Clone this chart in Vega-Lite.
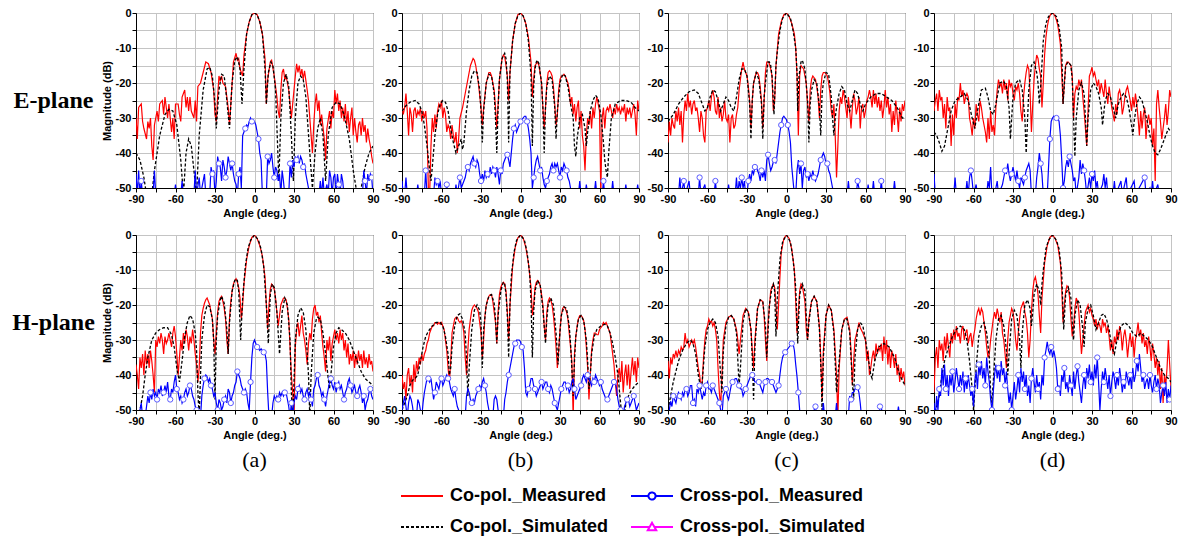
{
"$schema": "https://vega.github.io/schema/vega-lite/v6.json",
"padding": {"left": 0, "top": 6, "right": 0, "bottom": 0},
"background": "white",
"columns": 5,
"spacing": {"row": 47, "column": 29},
"bounds": "flush",
"align": "each",
"config": {
 "font": "Liberation Sans",
 "view": {"stroke": "#000000", "strokeWidth": 1},
 "axis": {"labelFont": "Liberation Sans", "labelFontWeight": "bold", "labelFontSize": 11, "labelColor": "#000", "titleFont": "Liberation Sans", "titleFontWeight": "bold", "titleFontSize": 11, "titleColor": "#000", "domainColor": "#000", "tickColor": "#000", "tickSize": 4, "gridColor": "#c4c4c4", "gridWidth": 1, "labelPadding": 1, "titlePadding": 3, "labelOverlap": false, "labelFlush": false, "labelBound": false},
 "legend": {"orient": "none", "legendX": 400, "legendY": 461, "columns": 2, "columnPadding": 18, "rowPadding": 0, "symbolSize": 1764, "symbolType": "stroke", "symbolStrokeWidth": 2, "labelFont": "Liberation Sans", "labelFontWeight": "bold", "labelFontSize": 18, "labelColor": "#000", "labelLimit": 0, "labelOffset": 6}
},
"datasets": {
"aE_cm": [{"x":-90,"y":-30},{"x":-89,"y":-36},{"x":-88,"y":-27},{"x":-86,"y":-26},{"x":-85,"y":-31},{"x":-84,"y":-33},{"x":-82,"y":-36},{"x":-81,"y":-31},{"x":-80,"y":-33},{"x":-79,"y":-30},{"x":-78,"y":-38},{"x":-77,"y":-42},{"x":-76,"y":-32},{"x":-74,"y":-28},{"x":-73,"y":-31},{"x":-72,"y":-26},{"x":-70,"y":-25},{"x":-69,"y":-29},{"x":-68,"y":-24},{"x":-66,"y":-30},{"x":-65,"y":-26},{"x":-63,"y":-34},{"x":-62,"y":-30},{"x":-61,"y":-36},{"x":-60,"y":-26},{"x":-58,"y":-26},{"x":-57,"y":-29},{"x":-56,"y":-31},{"x":-55,"y":-24},{"x":-53,"y":-22},{"x":-52,"y":-27},{"x":-51,"y":-24},{"x":-50,"y":-28},{"x":-49,"y":-24},{"x":-48,"y":-28},{"x":-46,"y":-30},{"x":-45,"y":-25},{"x":-44,"y":-31},{"x":-43,"y":-21},{"x":-41,"y":-20},{"x":-39,"y":-17},{"x":-37,"y":-14},{"x":-35,"y":-14.5},{"x":-33,"y":-17},{"x":-31,"y":-22},{"x":-30,"y":-29},{"x":-29,"y":-31},{"x":-28,"y":-24},{"x":-27,"y":-18},{"x":-26,"y":-19.5},{"x":-25,"y":-18},{"x":-24,"y":-20},{"x":-22,"y":-21},{"x":-21,"y":-24},{"x":-20,"y":-27},{"x":-19,"y":-32},{"x":-18,"y":-26},{"x":-17,"y":-20},{"x":-16,"y":-14},{"x":-14,"y":-11.5},{"x":-13,"y":-13.5},{"x":-12,"y":-13},{"x":-11,"y":-16},{"x":-10,"y":-17},{"x":-9,"y":-18},{"x":-8,"y":-12},{"x":-6,"y":-6},{"x":-4,"y":-2.5},{"x":-2,"y":-0.5},{"x":0,"y":0},{"x":2,"y":-0.5},{"x":4,"y":-2.5},{"x":6,"y":-6},{"x":8,"y":-13},{"x":9,"y":-26},{"x":10,"y":-19},{"x":12,"y":-14},{"x":13,"y":-13.5},{"x":15,"y":-18},{"x":17,"y":-24},{"x":18,"y":-28},{"x":19,"y":-30},{"x":20,"y":-22},{"x":21,"y":-17},{"x":22,"y":-16},{"x":23,"y":-19},{"x":24,"y":-18},{"x":26,"y":-22},{"x":27,"y":-26},{"x":28,"y":-30},{"x":29,"y":-26},{"x":30,"y":-22},{"x":31,"y":-18},{"x":32,"y":-14.5},{"x":33,"y":-17},{"x":34,"y":-15},{"x":35,"y":-18},{"x":36,"y":-16},{"x":37,"y":-19},{"x":38,"y":-16.5},{"x":40,"y":-22},{"x":41,"y":-25},{"x":42,"y":-30},{"x":43,"y":-35},{"x":44,"y":-40},{"x":45,"y":-32},{"x":46,"y":-26},{"x":47,"y":-23},{"x":48,"y":-28},{"x":49,"y":-25},{"x":50,"y":-32},{"x":51,"y":-29},{"x":53,"y":-36},{"x":54,"y":-42},{"x":55,"y":-33},{"x":57,"y":-28},{"x":58,"y":-33},{"x":59,"y":-28},{"x":60,"y":-30},{"x":61,"y":-22},{"x":62,"y":-26},{"x":63,"y":-23},{"x":64,"y":-28},{"x":65,"y":-25},{"x":66,"y":-30},{"x":67,"y":-27},{"x":68,"y":-31},{"x":69,"y":-26},{"x":70,"y":-32},{"x":71,"y":-28},{"x":72,"y":-34},{"x":73,"y":-30},{"x":74,"y":-27},{"x":75,"y":-35},{"x":76,"y":-30},{"x":77,"y":-34},{"x":78,"y":-37},{"x":79,"y":-32},{"x":80,"y":-31},{"x":81,"y":-35},{"x":82,"y":-30},{"x":83,"y":-34},{"x":84,"y":-32},{"x":85,"y":-37},{"x":86,"y":-33},{"x":87,"y":-36},{"x":88,"y":-38},{"x":89,"y":-41},{"x":90,"y":-43}],
"aE_cs": [{"x":-90,"y":-40},{"x":-87,"y":-42},{"x":-84,"y":-47},{"x":-82,"y":-52},{"x":-78,"y":-52},{"x":-76,"y":-45},{"x":-72,"y":-35},{"x":-68,"y":-29},{"x":-65,"y":-27.5},{"x":-62,"y":-28},{"x":-59,"y":-32},{"x":-56,"y":-42},{"x":-54,"y":-52},{"x":-52,"y":-40},{"x":-50,"y":-36},{"x":-48,"y":-38},{"x":-46,"y":-45},{"x":-44,"y":-52},{"x":-42,"y":-35},{"x":-39,"y":-22},{"x":-36,"y":-16},{"x":-34,"y":-15.5},{"x":-32,"y":-18},{"x":-30,"y":-26},{"x":-29,"y":-33},{"x":-27,"y":-22},{"x":-25,"y":-17.5},{"x":-23,"y":-18},{"x":-21,"y":-25},{"x":-19,"y":-33},{"x":-17,"y":-20},{"x":-15,"y":-13.5},{"x":-13,"y":-12.5},{"x":-11,"y":-16},{"x":-9.5,"y":-26},{"x":-8,"y":-16},{"x":-6,"y":-6},{"x":-4,"y":-2.5},{"x":-2,"y":-0.5},{"x":0,"y":0},{"x":2,"y":-0.5},{"x":4,"y":-2.5},{"x":6,"y":-6},{"x":8,"y":-16},{"x":9,"y":-26},{"x":10.5,"y":-17},{"x":12.5,"y":-14},{"x":14,"y":-15},{"x":16,"y":-22},{"x":18.5,"y":-48},{"x":20,"y":-30},{"x":22,"y":-20},{"x":24,"y":-17.5},{"x":26,"y":-21},{"x":28,"y":-35},{"x":29.5,"y":-48},{"x":31,"y":-30},{"x":33,"y":-20},{"x":35,"y":-18},{"x":37,"y":-19},{"x":39,"y":-24},{"x":42,"y":-40},{"x":44,"y":-50},{"x":46,"y":-40},{"x":48,"y":-33},{"x":50,"y":-30},{"x":52,"y":-35},{"x":54,"y":-48},{"x":56,"y":-35},{"x":59,"y":-27},{"x":62,"y":-25.5},{"x":65,"y":-26},{"x":68,"y":-29},{"x":72,"y":-36},{"x":75,"y":-45},{"x":78,"y":-52},{"x":81,"y":-50},{"x":84,"y":-44},{"x":87,"y":-40},{"x":90,"y":-38}],
"aE_xm": [{"x":-90,"y":-46},{"x":-89,"y":-52},{"x":-88,"y":-45},{"x":-87,"y":-52},{"x":-86,"y":-48},{"x":-85,"y":-52},{"x":-77,"y":-52},{"x":-76,"y":-45},{"x":-75,"y":-52},{"x":-61,"y":-52},{"x":-60,"y":-49},{"x":-59,"y":-52},{"x":-56,"y":-52},{"x":-55,"y":-48},{"x":-54,"y":-52},{"x":-46,"y":-52},{"x":-45,"y":-45},{"x":-44,"y":-52},{"x":-42,"y":-47},{"x":-41,"y":-52},{"x":-38,"y":-46},{"x":-37,"y":-52},{"x":-34,"y":-52},{"x":-33,"y":-44},{"x":-32,"y":-46},{"x":-31,"y":-45},{"x":-30,"y":-52},{"x":-29,"y":-48},{"x":-28,"y":-41},{"x":-27,"y":-43},{"x":-26,"y":-44},{"x":-25,"y":-48},{"x":-24,"y":-42},{"x":-23,"y":-44},{"x":-22,"y":-47},{"x":-21,"y":-45},{"x":-20,"y":-41},{"x":-19,"y":-43},{"x":-18,"y":-45},{"x":-17,"y":-43},{"x":-16,"y":-46},{"x":-15,"y":-48},{"x":-14,"y":-49},{"x":-13,"y":-52},{"x":-12,"y":-46},{"x":-11,"y":-44},{"x":-10,"y":-50},{"x":-9,"y":-35},{"x":-8,"y":-34},{"x":-7,"y":-33},{"x":-6,"y":-32},{"x":-5,"y":-32.5},{"x":-4,"y":-31},{"x":-3,"y":-30},{"x":-2,"y":-31},{"x":-1,"y":-31},{"x":0,"y":-31},{"x":1,"y":-32},{"x":2,"y":-34},{"x":3,"y":-36},{"x":4,"y":-40},{"x":5,"y":-42},{"x":6,"y":-52},{"x":9,"y":-52},{"x":10,"y":-41},{"x":11,"y":-43},{"x":12,"y":-42},{"x":13,"y":-40},{"x":14,"y":-44},{"x":15,"y":-47},{"x":16,"y":-44},{"x":17,"y":-45},{"x":18,"y":-48},{"x":19,"y":-46},{"x":20,"y":-52},{"x":21,"y":-45},{"x":22,"y":-48},{"x":23,"y":-52},{"x":26,"y":-52},{"x":27,"y":-43},{"x":28,"y":-47},{"x":29,"y":-42},{"x":30,"y":-44},{"x":31,"y":-41},{"x":32,"y":-42},{"x":33,"y":-41},{"x":34,"y":-43},{"x":35,"y":-41},{"x":36,"y":-42},{"x":37,"y":-44},{"x":38,"y":-43},{"x":39,"y":-46},{"x":40,"y":-48},{"x":41,"y":-50},{"x":42,"y":-52},{"x":49,"y":-52},{"x":50,"y":-48},{"x":51,"y":-52},{"x":52,"y":-47},{"x":53,"y":-52},{"x":55,"y":-49},{"x":56,"y":-52},{"x":57,"y":-45},{"x":58,"y":-47},{"x":59,"y":-52},{"x":60,"y":-47},{"x":61,"y":-46},{"x":62,"y":-52},{"x":63,"y":-46},{"x":64,"y":-49},{"x":65,"y":-52},{"x":66,"y":-46},{"x":67,"y":-48},{"x":68,"y":-52},{"x":72,"y":-52},{"x":73,"y":-50},{"x":74,"y":-52},{"x":82,"y":-52},{"x":83,"y":-45},{"x":84,"y":-48},{"x":85,"y":-52},{"x":86,"y":-46},{"x":87,"y":-48},{"x":88,"y":-46},{"x":89,"y":-47},{"x":90,"y":-52}],
"bE_cm": [{"x":-90,"y":-27},{"x":-89,"y":-29},{"x":-88,"y":-27},{"x":-87,"y":-23},{"x":-86,"y":-28},{"x":-85,"y":-35},{"x":-84,"y":-27},{"x":-83,"y":-29},{"x":-82,"y":-34},{"x":-81,"y":-28},{"x":-80,"y":-27},{"x":-79,"y":-30},{"x":-78,"y":-28},{"x":-77,"y":-29},{"x":-76,"y":-27},{"x":-75,"y":-31},{"x":-74,"y":-28},{"x":-73,"y":-30},{"x":-72,"y":-28},{"x":-71,"y":-33},{"x":-70,"y":-50},{"x":-69,"y":-52},{"x":-68,"y":-38},{"x":-67,"y":-30},{"x":-66,"y":-34},{"x":-65,"y":-29},{"x":-64,"y":-33},{"x":-63,"y":-28},{"x":-62,"y":-26},{"x":-61,"y":-27},{"x":-60,"y":-25},{"x":-59,"y":-30},{"x":-58,"y":-27},{"x":-57,"y":-29},{"x":-56,"y":-34},{"x":-55,"y":-32},{"x":-54,"y":-33},{"x":-53,"y":-36},{"x":-52,"y":-32},{"x":-51,"y":-35},{"x":-50,"y":-37},{"x":-49,"y":-34},{"x":-48,"y":-40},{"x":-47,"y":-36},{"x":-46,"y":-30},{"x":-44,"y":-27},{"x":-42,"y":-23},{"x":-40,"y":-19},{"x":-38,"y":-15},{"x":-36,"y":-13},{"x":-35,"y":-13.5},{"x":-34,"y":-15},{"x":-32,"y":-20},{"x":-30,"y":-27},{"x":-29,"y":-32},{"x":-28,"y":-27},{"x":-26,"y":-20},{"x":-24,"y":-17},{"x":-23,"y":-17},{"x":-22,"y":-18},{"x":-20,"y":-22},{"x":-19,"y":-27},{"x":-18,"y":-33},{"x":-17,"y":-26},{"x":-16,"y":-19},{"x":-14,"y":-13},{"x":-13,"y":-12},{"x":-12,"y":-12.5},{"x":-11,"y":-15},{"x":-10,"y":-18},{"x":-9,"y":-25},{"x":-8,"y":-17},{"x":-6,"y":-8},{"x":-4,"y":-3},{"x":-2,"y":-0.5},{"x":0,"y":0},{"x":2,"y":-0.8},{"x":4,"y":-3},{"x":6,"y":-7},{"x":8,"y":-14},{"x":9,"y":-24},{"x":10,"y":-19},{"x":11,"y":-15},{"x":12,"y":-14.5},{"x":13,"y":-14},{"x":14,"y":-15},{"x":16,"y":-20},{"x":17,"y":-27},{"x":18,"y":-33},{"x":19,"y":-27},{"x":20,"y":-20},{"x":21,"y":-17},{"x":22,"y":-16.5},{"x":23,"y":-17},{"x":24,"y":-18},{"x":25,"y":-21},{"x":26,"y":-26},{"x":27,"y":-32},{"x":28,"y":-29},{"x":29,"y":-22},{"x":30,"y":-19},{"x":31,"y":-18},{"x":32,"y":-18},{"x":33,"y":-17.5},{"x":34,"y":-18},{"x":35,"y":-19},{"x":36,"y":-20},{"x":37,"y":-22},{"x":38,"y":-26},{"x":39,"y":-24},{"x":40,"y":-29},{"x":41,"y":-26},{"x":42,"y":-31},{"x":43,"y":-27},{"x":44,"y":-25},{"x":45,"y":-33},{"x":46,"y":-28},{"x":47,"y":-35},{"x":48,"y":-38},{"x":49,"y":-45},{"x":50,"y":-35},{"x":51,"y":-30},{"x":52,"y":-32},{"x":53,"y":-28},{"x":54,"y":-33},{"x":55,"y":-27},{"x":56,"y":-30},{"x":57,"y":-26},{"x":58,"y":-24},{"x":59,"y":-26},{"x":60,"y":-28},{"x":61,"y":-52},{"x":62,"y":-30},{"x":63,"y":-27},{"x":64,"y":-33},{"x":65,"y":-28},{"x":66,"y":-27},{"x":67,"y":-28},{"x":68,"y":-26},{"x":69,"y":-28},{"x":70,"y":-30},{"x":71,"y":-27},{"x":72,"y":-29},{"x":73,"y":-26},{"x":74,"y":-28},{"x":75,"y":-27},{"x":76,"y":-29},{"x":77,"y":-27},{"x":78,"y":-28},{"x":79,"y":-26},{"x":80,"y":-31},{"x":81,"y":-27},{"x":82,"y":-29},{"x":83,"y":-27},{"x":84,"y":-30},{"x":85,"y":-28},{"x":86,"y":-26},{"x":87,"y":-29},{"x":88,"y":-35},{"x":89,"y":-25},{"x":90,"y":-28}],
"bE_cs": [{"x":-90,"y":-28},{"x":-87,"y":-26.5},{"x":-84,"y":-25.5},{"x":-80,"y":-25},{"x":-77,"y":-26},{"x":-75,"y":-28},{"x":-73,"y":-32},{"x":-71,"y":-38},{"x":-69,"y":-45},{"x":-68,"y":-48},{"x":-67,"y":-44},{"x":-65,"y":-35},{"x":-63,"y":-29},{"x":-61,"y":-26},{"x":-59,"y":-25},{"x":-57,"y":-25.5},{"x":-55,"y":-28},{"x":-53,"y":-33},{"x":-51,"y":-37},{"x":-49,"y":-40},{"x":-47,"y":-38},{"x":-45,"y":-36},{"x":-44,"y":-39},{"x":-43,"y":-37},{"x":-41,"y":-28},{"x":-39,"y":-22},{"x":-37,"y":-18},{"x":-35,"y":-16.5},{"x":-33,"y":-17},{"x":-31,"y":-22},{"x":-30,"y":-28},{"x":-29,"y":-37},{"x":-28,"y":-28},{"x":-26,"y":-20},{"x":-24,"y":-17.5},{"x":-22,"y":-18},{"x":-20,"y":-23},{"x":-19,"y":-30},{"x":-18,"y":-40},{"x":-17,"y":-27},{"x":-16,"y":-19},{"x":-14,"y":-13},{"x":-12,"y":-11.5},{"x":-11,"y":-13},{"x":-10,"y":-19},{"x":-9,"y":-37},{"x":-8,"y":-17},{"x":-6,"y":-8},{"x":-4,"y":-3},{"x":-2,"y":-0.8},{"x":0,"y":0},{"x":2,"y":-0.8},{"x":4,"y":-3},{"x":6,"y":-8},{"x":8,"y":-18},{"x":9,"y":-38},{"x":10,"y":-21},{"x":11,"y":-16},{"x":12,"y":-14},{"x":13,"y":-13.5},{"x":14,"y":-14.5},{"x":16,"y":-20},{"x":17,"y":-27},{"x":18,"y":-40},{"x":19,"y":-27},{"x":20,"y":-21},{"x":22,"y":-18},{"x":24,"y":-19},{"x":26,"y":-27},{"x":27,"y":-36},{"x":28,"y":-28},{"x":30,"y":-20},{"x":32,"y":-17.5},{"x":34,"y":-18},{"x":36,"y":-21},{"x":38,"y":-26},{"x":40,"y":-30},{"x":41,"y":-38},{"x":42,"y":-41},{"x":43,"y":-36},{"x":45,"y":-30},{"x":47,"y":-29},{"x":49,"y":-33},{"x":50,"y":-38},{"x":51,"y":-34},{"x":53,"y":-28},{"x":55,"y":-25},{"x":57,"y":-23.5},{"x":59,"y":-24.5},{"x":61,"y":-29},{"x":63,"y":-37},{"x":64,"y":-42},{"x":65,"y":-45},{"x":66,"y":-47},{"x":67,"y":-40},{"x":69,"y":-30},{"x":72,"y":-26},{"x":76,"y":-25},{"x":80,"y":-25},{"x":84,"y":-25.5},{"x":87,"y":-27},{"x":90,"y":-28}],
"bE_xm": [{"x":-90,"y":-48},{"x":-89,"y":-52},{"x":-88,"y":-52},{"x":-87,"y":-47},{"x":-86,"y":-52},{"x":-79,"y":-52},{"x":-78,"y":-49},{"x":-77,"y":-52},{"x":-73,"y":-52},{"x":-72,"y":-45},{"x":-71,"y":-52},{"x":-66,"y":-52},{"x":-65,"y":-47},{"x":-64,"y":-49},{"x":-63,"y":-48},{"x":-62,"y":-50},{"x":-61,"y":-48},{"x":-60,"y":-52},{"x":-57,"y":-52},{"x":-56,"y":-49},{"x":-55,"y":-52},{"x":-50,"y":-52},{"x":-49,"y":-49},{"x":-48,"y":-52},{"x":-46,"y":-47},{"x":-45,"y":-50},{"x":-44,"y":-49},{"x":-42,"y":-47},{"x":-41,"y":-45},{"x":-40,"y":-44},{"x":-39,"y":-45},{"x":-38,"y":-43},{"x":-37,"y":-42},{"x":-36,"y":-41},{"x":-35,"y":-43},{"x":-34,"y":-44},{"x":-33,"y":-42},{"x":-32,"y":-43},{"x":-31,"y":-46},{"x":-30,"y":-48},{"x":-29,"y":-46},{"x":-28,"y":-48},{"x":-27,"y":-45},{"x":-26,"y":-47},{"x":-25,"y":-46},{"x":-24,"y":-47},{"x":-23,"y":-44},{"x":-22,"y":-46},{"x":-21,"y":-44},{"x":-20,"y":-45},{"x":-19,"y":-47},{"x":-18,"y":-44},{"x":-17,"y":-46},{"x":-16,"y":-49},{"x":-15,"y":-45},{"x":-14,"y":-46},{"x":-13,"y":-43},{"x":-12,"y":-42},{"x":-11,"y":-41},{"x":-10,"y":-40.5},{"x":-9,"y":-42},{"x":-8,"y":-44},{"x":-7,"y":-40},{"x":-6,"y":-36},{"x":-5,"y":-33},{"x":-4,"y":-32},{"x":-3,"y":-34},{"x":-2,"y":-33},{"x":-1,"y":-32},{"x":0,"y":-31},{"x":1,"y":-30.5},{"x":2,"y":-30},{"x":3,"y":-29.5},{"x":4,"y":-29.5},{"x":5,"y":-31},{"x":6,"y":-33},{"x":7,"y":-36},{"x":8,"y":-40},{"x":9,"y":-50},{"x":10,"y":-47},{"x":11,"y":-44},{"x":12,"y":-42},{"x":13,"y":-41},{"x":14,"y":-43},{"x":15,"y":-45},{"x":16,"y":-44},{"x":17,"y":-47},{"x":18,"y":-49},{"x":19,"y":-50},{"x":20,"y":-48},{"x":21,"y":-47},{"x":22,"y":-46},{"x":23,"y":-44},{"x":24,"y":-43},{"x":25,"y":-45},{"x":26,"y":-43},{"x":27,"y":-44},{"x":28,"y":-43},{"x":29,"y":-45},{"x":30,"y":-47},{"x":31,"y":-44},{"x":32,"y":-45},{"x":33,"y":-43},{"x":34,"y":-44},{"x":35,"y":-45},{"x":36,"y":-47},{"x":37,"y":-48},{"x":38,"y":-50},{"x":39,"y":-52},{"x":44,"y":-52},{"x":45,"y":-48},{"x":46,"y":-52},{"x":49,"y":-52},{"x":50,"y":-49},{"x":51,"y":-52},{"x":56,"y":-52},{"x":57,"y":-48},{"x":58,"y":-52},{"x":62,"y":-52},{"x":63,"y":-48},{"x":64,"y":-52},{"x":69,"y":-52},{"x":70,"y":-48},{"x":71,"y":-52},{"x":79,"y":-52},{"x":80,"y":-49},{"x":81,"y":-52},{"x":88,"y":-52},{"x":89,"y":-49},{"x":90,"y":-52}],
"cE_cm": [{"x":-90,"y":-37},{"x":-89,"y":-31},{"x":-88,"y":-35},{"x":-87,"y":-30},{"x":-86,"y":-32},{"x":-85,"y":-33},{"x":-84,"y":-28},{"x":-83,"y":-31},{"x":-82,"y":-27},{"x":-81,"y":-32},{"x":-80,"y":-28},{"x":-79,"y":-37},{"x":-78,"y":-29},{"x":-77,"y":-25},{"x":-76,"y":-28},{"x":-75,"y":-23},{"x":-74,"y":-27},{"x":-73,"y":-25},{"x":-72,"y":-29},{"x":-71,"y":-26},{"x":-70,"y":-25},{"x":-69,"y":-28},{"x":-68,"y":-27},{"x":-67,"y":-30},{"x":-66,"y":-34},{"x":-65,"y":-28},{"x":-64,"y":-30},{"x":-63,"y":-35},{"x":-62,"y":-37},{"x":-61,"y":-28},{"x":-60,"y":-27},{"x":-59,"y":-25},{"x":-58,"y":-28},{"x":-57,"y":-24},{"x":-56,"y":-22},{"x":-55,"y":-24},{"x":-54,"y":-28},{"x":-53,"y":-29},{"x":-52,"y":-24},{"x":-51,"y":-30},{"x":-50,"y":-27},{"x":-49,"y":-31},{"x":-48,"y":-29},{"x":-47,"y":-25},{"x":-46,"y":-30},{"x":-45,"y":-31},{"x":-44,"y":-29},{"x":-43,"y":-37},{"x":-42,"y":-30},{"x":-41,"y":-29},{"x":-40,"y":-33},{"x":-39,"y":-32},{"x":-38,"y":-29},{"x":-37,"y":-27},{"x":-36,"y":-22},{"x":-35,"y":-19},{"x":-34,"y":-16},{"x":-33,"y":-14},{"x":-32,"y":-16},{"x":-31,"y":-17},{"x":-30,"y":-18},{"x":-29,"y":-21},{"x":-28,"y":-25},{"x":-27,"y":-33},{"x":-26,"y":-25},{"x":-25,"y":-20},{"x":-24,"y":-18.5},{"x":-23,"y":-17},{"x":-22,"y":-17},{"x":-21,"y":-18},{"x":-20,"y":-21},{"x":-19,"y":-25},{"x":-18,"y":-33},{"x":-17,"y":-25},{"x":-16,"y":-17},{"x":-15,"y":-14},{"x":-14,"y":-14},{"x":-13,"y":-14.5},{"x":-12,"y":-16},{"x":-11,"y":-18},{"x":-10,"y":-28},{"x":-9,"y":-25},{"x":-8,"y":-15},{"x":-6,"y":-6},{"x":-4,"y":-2.5},{"x":-2,"y":-0.5},{"x":0,"y":0},{"x":2,"y":-1},{"x":4,"y":-3},{"x":6,"y":-6},{"x":7,"y":-10},{"x":8,"y":-18},{"x":9,"y":-35},{"x":10,"y":-18},{"x":11,"y":-15},{"x":12,"y":-15.5},{"x":13,"y":-16},{"x":14,"y":-18},{"x":15,"y":-20},{"x":16,"y":-26},{"x":17,"y":-31},{"x":18,"y":-22},{"x":19,"y":-19},{"x":20,"y":-18},{"x":21,"y":-18.5},{"x":22,"y":-19},{"x":23,"y":-21},{"x":24,"y":-24},{"x":25,"y":-30},{"x":26,"y":-22},{"x":27,"y":-18},{"x":28,"y":-17},{"x":29,"y":-17},{"x":30,"y":-17.5},{"x":31,"y":-18},{"x":32,"y":-20},{"x":33,"y":-23},{"x":34,"y":-28},{"x":35,"y":-30},{"x":36,"y":-26},{"x":37,"y":-35},{"x":38,"y":-47},{"x":39,"y":-38},{"x":40,"y":-28},{"x":41,"y":-24},{"x":42,"y":-26},{"x":43,"y":-22},{"x":44,"y":-24},{"x":45,"y":-27},{"x":46,"y":-30},{"x":47,"y":-24},{"x":48,"y":-28},{"x":49,"y":-33},{"x":50,"y":-27},{"x":51,"y":-23},{"x":52,"y":-25},{"x":53,"y":-29},{"x":54,"y":-27},{"x":55,"y":-24},{"x":56,"y":-33},{"x":57,"y":-27},{"x":58,"y":-26},{"x":59,"y":-30},{"x":60,"y":-28},{"x":61,"y":-25},{"x":62,"y":-24},{"x":63,"y":-22},{"x":64,"y":-24},{"x":65,"y":-27},{"x":66,"y":-22},{"x":67,"y":-26},{"x":68,"y":-23},{"x":69,"y":-27},{"x":70,"y":-24},{"x":71,"y":-28},{"x":72,"y":-25},{"x":73,"y":-30},{"x":74,"y":-27},{"x":75,"y":-22},{"x":76,"y":-27},{"x":77,"y":-24},{"x":78,"y":-29},{"x":79,"y":-26},{"x":80,"y":-34},{"x":81,"y":-28},{"x":82,"y":-32},{"x":83,"y":-25},{"x":84,"y":-29},{"x":85,"y":-34},{"x":86,"y":-27},{"x":87,"y":-31},{"x":88,"y":-26},{"x":89,"y":-28},{"x":90,"y":-25}],
"cE_cs": [{"x":-90,"y":-31},{"x":-86,"y":-29},{"x":-82,"y":-26},{"x":-78,"y":-24},{"x":-74,"y":-22.5},{"x":-70,"y":-22},{"x":-67,"y":-23},{"x":-64,"y":-26},{"x":-62,"y":-28},{"x":-60,"y":-27},{"x":-58,"y":-24},{"x":-56,"y":-22},{"x":-54,"y":-22.5},{"x":-52,"y":-25},{"x":-50,"y":-28},{"x":-48,"y":-26},{"x":-46,"y":-24},{"x":-44,"y":-25},{"x":-42,"y":-27},{"x":-40,"y":-28},{"x":-38,"y":-24},{"x":-36,"y":-19},{"x":-34,"y":-16},{"x":-32,"y":-16},{"x":-30,"y":-18},{"x":-28,"y":-26},{"x":-27,"y":-36},{"x":-26,"y":-25},{"x":-25,"y":-20},{"x":-23,"y":-17},{"x":-21,"y":-19},{"x":-19,"y":-26},{"x":-18,"y":-36},{"x":-17,"y":-24},{"x":-16,"y":-20},{"x":-14,"y":-14},{"x":-13,"y":-14},{"x":-12,"y":-15},{"x":-11,"y":-18},{"x":-9.5,"y":-29},{"x":-8,"y":-15},{"x":-7,"y":-11},{"x":-5,"y":-5},{"x":-3,"y":-1.5},{"x":0,"y":0},{"x":3,"y":-1.5},{"x":5,"y":-5},{"x":7,"y":-10},{"x":8,"y":-17},{"x":8.5,"y":-28},{"x":9.5,"y":-18},{"x":11,"y":-14},{"x":12,"y":-13.5},{"x":14,"y":-16},{"x":16,"y":-25},{"x":17,"y":-37},{"x":18,"y":-26},{"x":19,"y":-22},{"x":21,"y":-19},{"x":23,"y":-20},{"x":25,"y":-27},{"x":26,"y":-35},{"x":27,"y":-23},{"x":28,"y":-20},{"x":30,"y":-17},{"x":32,"y":-17.5},{"x":34,"y":-24},{"x":35,"y":-30},{"x":36,"y":-35},{"x":37,"y":-30},{"x":38,"y":-27},{"x":40,"y":-23},{"x":42,"y":-21},{"x":44,"y":-22},{"x":46,"y":-26},{"x":48,"y":-28},{"x":50,"y":-25},{"x":52,"y":-22},{"x":54,"y":-23},{"x":56,"y":-26},{"x":58,"y":-28},{"x":60,"y":-26},{"x":64,"y":-24},{"x":68,"y":-23},{"x":72,"y":-23},{"x":76,"y":-24},{"x":80,"y":-25},{"x":84,"y":-27},{"x":88,"y":-30},{"x":90,"y":-30}],
"cE_xm": [{"x":-90,"y":-52},{"x":-82,"y":-52},{"x":-81,"y":-47},{"x":-80,"y":-52},{"x":-78,"y":-48},{"x":-77,"y":-52},{"x":-74,"y":-48},{"x":-73,"y":-52},{"x":-67,"y":-52},{"x":-66,"y":-47},{"x":-65,"y":-52},{"x":-62,"y":-49},{"x":-61,"y":-52},{"x":-55,"y":-52},{"x":-54,"y":-48},{"x":-53,"y":-52},{"x":-45,"y":-52},{"x":-44,"y":-49},{"x":-43,"y":-52},{"x":-39,"y":-52},{"x":-38,"y":-47},{"x":-37,"y":-52},{"x":-36,"y":-48},{"x":-35,"y":-50},{"x":-34,"y":-47},{"x":-33,"y":-50},{"x":-32,"y":-48},{"x":-31,"y":-52},{"x":-30,"y":-52},{"x":-29,"y":-48},{"x":-28,"y":-46},{"x":-27,"y":-48},{"x":-26,"y":-45},{"x":-25,"y":-46},{"x":-24,"y":-44},{"x":-23,"y":-44},{"x":-22,"y":-45},{"x":-21,"y":-46},{"x":-20,"y":-48},{"x":-19,"y":-45},{"x":-18,"y":-47},{"x":-17,"y":-45},{"x":-16,"y":-48},{"x":-15,"y":-42},{"x":-14,"y":-40.5},{"x":-13,"y":-43},{"x":-12,"y":-45},{"x":-11,"y":-44},{"x":-10,"y":-42.5},{"x":-9,"y":-42},{"x":-8,"y":-43},{"x":-7,"y":-40},{"x":-6,"y":-37},{"x":-5,"y":-34},{"x":-4,"y":-32},{"x":-3,"y":-30},{"x":-2,"y":-29.5},{"x":-1,"y":-30},{"x":0,"y":-30.5},{"x":1,"y":-32},{"x":2,"y":-34},{"x":3,"y":-37},{"x":4,"y":-44},{"x":5,"y":-48},{"x":6,"y":-52},{"x":7,"y":-52},{"x":8,"y":-45},{"x":9,"y":-42},{"x":10,"y":-46},{"x":11,"y":-43},{"x":12,"y":-50},{"x":13,"y":-45},{"x":14,"y":-44},{"x":15,"y":-47},{"x":16,"y":-46},{"x":17,"y":-48},{"x":18,"y":-46},{"x":19,"y":-47},{"x":20,"y":-45},{"x":21,"y":-47},{"x":22,"y":-48},{"x":23,"y":-47},{"x":24,"y":-46},{"x":25,"y":-44},{"x":26,"y":-42},{"x":27,"y":-41},{"x":28,"y":-40},{"x":29,"y":-41},{"x":30,"y":-43},{"x":31,"y":-43},{"x":32,"y":-45},{"x":33,"y":-46},{"x":34,"y":-48},{"x":35,"y":-50},{"x":36,"y":-52},{"x":46,"y":-52},{"x":47,"y":-48},{"x":48,"y":-52},{"x":53,"y":-52},{"x":54,"y":-48},{"x":55,"y":-50},{"x":56,"y":-52},{"x":61,"y":-52},{"x":62,"y":-49},{"x":63,"y":-52},{"x":65,"y":-52},{"x":66,"y":-48},{"x":67,"y":-52},{"x":71,"y":-52},{"x":72,"y":-48},{"x":73,"y":-52},{"x":81,"y":-52},{"x":82,"y":-48},{"x":83,"y":-52},{"x":90,"y":-52}],
"dE_cm": [{"x":-90,"y":-28},{"x":-89,"y":-25},{"x":-88,"y":-23},{"x":-87,"y":-28},{"x":-86,"y":-22},{"x":-85,"y":-25},{"x":-84,"y":-24},{"x":-83,"y":-30},{"x":-82,"y":-26},{"x":-81,"y":-33},{"x":-80,"y":-24},{"x":-79,"y":-28},{"x":-78,"y":-27},{"x":-77,"y":-38},{"x":-76,"y":-29},{"x":-75,"y":-35},{"x":-74,"y":-26},{"x":-73,"y":-30},{"x":-72,"y":-24},{"x":-71,"y":-25},{"x":-70,"y":-20},{"x":-69,"y":-24},{"x":-68,"y":-22},{"x":-67,"y":-26},{"x":-66,"y":-24},{"x":-65,"y":-23},{"x":-64,"y":-24},{"x":-63,"y":-30},{"x":-62,"y":-32},{"x":-61,"y":-35},{"x":-60,"y":-30},{"x":-59,"y":-33},{"x":-58,"y":-26},{"x":-57,"y":-29},{"x":-56,"y":-31},{"x":-55,"y":-25},{"x":-54,"y":-27},{"x":-53,"y":-30},{"x":-52,"y":-32},{"x":-51,"y":-34},{"x":-50,"y":-37},{"x":-49,"y":-30},{"x":-48,"y":-36},{"x":-47,"y":-28},{"x":-46,"y":-34},{"x":-45,"y":-32},{"x":-44,"y":-35},{"x":-43,"y":-27},{"x":-42,"y":-22},{"x":-41,"y":-19},{"x":-40,"y":-21},{"x":-39,"y":-20},{"x":-38,"y":-23},{"x":-37,"y":-19},{"x":-36,"y":-22},{"x":-35,"y":-20},{"x":-34,"y":-25},{"x":-33,"y":-19},{"x":-32,"y":-21},{"x":-31,"y":-20},{"x":-30,"y":-23},{"x":-29,"y":-25},{"x":-28,"y":-21},{"x":-27,"y":-22},{"x":-26,"y":-20},{"x":-25,"y":-23},{"x":-24,"y":-28},{"x":-23,"y":-31},{"x":-22,"y":-24},{"x":-21,"y":-20},{"x":-20,"y":-17},{"x":-19,"y":-15},{"x":-18,"y":-16},{"x":-17,"y":-23},{"x":-16,"y":-34},{"x":-15,"y":-26},{"x":-14,"y":-19},{"x":-13,"y":-15},{"x":-12,"y":-12},{"x":-11,"y":-13},{"x":-10,"y":-16},{"x":-9,"y":-18},{"x":-8,"y":-27},{"x":-7,"y":-20},{"x":-6,"y":-12},{"x":-5,"y":-7},{"x":-4,"y":-4},{"x":-3,"y":-2},{"x":-2,"y":-0.8},{"x":-1,"y":-0.2},{"x":0,"y":0},{"x":1,"y":-0.3},{"x":2,"y":-1},{"x":3,"y":-2},{"x":4,"y":-3.5},{"x":5,"y":-6},{"x":6,"y":-9},{"x":7,"y":-17},{"x":8,"y":-26},{"x":9,"y":-20},{"x":10,"y":-15},{"x":11,"y":-14},{"x":12,"y":-14},{"x":13,"y":-14.5},{"x":14,"y":-15},{"x":15,"y":-18},{"x":16,"y":-30},{"x":17,"y":-23},{"x":18,"y":-21},{"x":19,"y":-22},{"x":20,"y":-19},{"x":21,"y":-21},{"x":22,"y":-19},{"x":23,"y":-24},{"x":24,"y":-28},{"x":25,"y":-33},{"x":26,"y":-38},{"x":27,"y":-28},{"x":28,"y":-18},{"x":29,"y":-17},{"x":30,"y":-15.5},{"x":31,"y":-18},{"x":32,"y":-17},{"x":33,"y":-19},{"x":34,"y":-21},{"x":35,"y":-19},{"x":36,"y":-23},{"x":37,"y":-20},{"x":38,"y":-22},{"x":39,"y":-24},{"x":40,"y":-19},{"x":41,"y":-23},{"x":42,"y":-26},{"x":43,"y":-21},{"x":44,"y":-24},{"x":45,"y":-27},{"x":46,"y":-29},{"x":47,"y":-31},{"x":48,"y":-26},{"x":49,"y":-29},{"x":50,"y":-23},{"x":51,"y":-22},{"x":52,"y":-24},{"x":53,"y":-29},{"x":54,"y":-27},{"x":55,"y":-24},{"x":56,"y":-22},{"x":57,"y":-21},{"x":58,"y":-23},{"x":59,"y":-25},{"x":60,"y":-28},{"x":61,"y":-24},{"x":62,"y":-27},{"x":63,"y":-23},{"x":64,"y":-26},{"x":65,"y":-30},{"x":66,"y":-35},{"x":67,"y":-28},{"x":68,"y":-33},{"x":69,"y":-29},{"x":70,"y":-27},{"x":71,"y":-36},{"x":72,"y":-31},{"x":73,"y":-29},{"x":74,"y":-32},{"x":75,"y":-30},{"x":76,"y":-38},{"x":77,"y":-33},{"x":78,"y":-48},{"x":79,"y":-26},{"x":80,"y":-22},{"x":81,"y":-27},{"x":82,"y":-31},{"x":83,"y":-36},{"x":84,"y":-33},{"x":85,"y":-30},{"x":86,"y":-26},{"x":87,"y":-32},{"x":88,"y":-28},{"x":89,"y":-22},{"x":90,"y":-24}],
"dE_cs": [{"x":-90,"y":-34},{"x":-88,"y":-35},{"x":-86,"y":-37},{"x":-84,"y":-39.5},{"x":-82,"y":-38},{"x":-80,"y":-34},{"x":-77,"y":-28},{"x":-74,"y":-25},{"x":-70,"y":-24},{"x":-67,"y":-23},{"x":-64,"y":-25},{"x":-61,"y":-30},{"x":-59,"y":-33},{"x":-57,"y":-28},{"x":-54,"y":-22},{"x":-51,"y":-21.5},{"x":-49,"y":-24},{"x":-47,"y":-28},{"x":-45,"y":-29},{"x":-43,"y":-26},{"x":-40,"y":-20},{"x":-37,"y":-19.5},{"x":-35,"y":-21},{"x":-33,"y":-27},{"x":-32,"y":-36},{"x":-30,"y":-24},{"x":-28,"y":-20},{"x":-25,"y":-19},{"x":-23,"y":-22},{"x":-21,"y":-30},{"x":-20,"y":-40},{"x":-18,"y":-22},{"x":-16,"y":-15},{"x":-14,"y":-14},{"x":-12,"y":-17},{"x":-11,"y":-20},{"x":-10,"y":-26},{"x":-9,"y":-21},{"x":-7,"y":-8},{"x":-5,"y":-3},{"x":-3,"y":-1},{"x":0,"y":0},{"x":3,"y":-1},{"x":5,"y":-4},{"x":7,"y":-10},{"x":8,"y":-26},{"x":10,"y":-15},{"x":12,"y":-14},{"x":14,"y":-15},{"x":15,"y":-19},{"x":16,"y":-30},{"x":17,"y":-41},{"x":18,"y":-30},{"x":20,"y":-22},{"x":22,"y":-20},{"x":24,"y":-23},{"x":25,"y":-30},{"x":26,"y":-38},{"x":27,"y":-30},{"x":29,"y":-22},{"x":31,"y":-20},{"x":33,"y":-21},{"x":35,"y":-23},{"x":37,"y":-27},{"x":38,"y":-32},{"x":40,"y":-25},{"x":42,"y":-23},{"x":44,"y":-24},{"x":46,"y":-27},{"x":48,"y":-30},{"x":50,"y":-26},{"x":52,"y":-24},{"x":54,"y":-23},{"x":56,"y":-24},{"x":58,"y":-27},{"x":60,"y":-32},{"x":61,"y":-35},{"x":62,"y":-31},{"x":64,"y":-26},{"x":66,"y":-24},{"x":68,"y":-25},{"x":70,"y":-28},{"x":72,"y":-31},{"x":74,"y":-35},{"x":76,"y":-38},{"x":78,"y":-40},{"x":80,"y":-40.5},{"x":82,"y":-39},{"x":84,"y":-37},{"x":86,"y":-35},{"x":88,"y":-33},{"x":90,"y":-34}],
"dE_xm": [{"x":-90,"y":-46},{"x":-89,"y":-52},{"x":-75,"y":-52},{"x":-74,"y":-47},{"x":-73,"y":-52},{"x":-66,"y":-52},{"x":-65,"y":-48},{"x":-64,"y":-52},{"x":-63,"y":-47},{"x":-62,"y":-45},{"x":-61,"y":-48},{"x":-60,"y":-52},{"x":-58,"y":-49},{"x":-57,"y":-52},{"x":-50,"y":-52},{"x":-49,"y":-48},{"x":-48,"y":-50},{"x":-47,"y":-44},{"x":-46,"y":-52},{"x":-44,"y":-52},{"x":-42,"y":-48},{"x":-41,"y":-52},{"x":-38,"y":-49},{"x":-37,"y":-47},{"x":-36,"y":-45},{"x":-35,"y":-46},{"x":-34,"y":-43},{"x":-33,"y":-46},{"x":-32,"y":-48},{"x":-31,"y":-46},{"x":-30,"y":-44},{"x":-29,"y":-46},{"x":-28,"y":-48},{"x":-27,"y":-45},{"x":-26,"y":-48},{"x":-25,"y":-50},{"x":-24,"y":-47},{"x":-23,"y":-48},{"x":-22,"y":-49},{"x":-21,"y":-47},{"x":-20,"y":-45},{"x":-19,"y":-44},{"x":-18,"y":-43},{"x":-17,"y":-45},{"x":-16,"y":-52},{"x":-13,"y":-52},{"x":-12,"y":-47},{"x":-11,"y":-44},{"x":-10,"y":-40},{"x":-9,"y":-43},{"x":-8,"y":-46},{"x":-7,"y":-52},{"x":-4,"y":-52},{"x":-3,"y":-44},{"x":-2,"y":-36},{"x":-1,"y":-31},{"x":0,"y":-30},{"x":1,"y":-29.5},{"x":2,"y":-30},{"x":3,"y":-30},{"x":4,"y":-30},{"x":5,"y":-31},{"x":6,"y":-35},{"x":7,"y":-42},{"x":8,"y":-50},{"x":9,"y":-48},{"x":10,"y":-44},{"x":11,"y":-42},{"x":12,"y":-44},{"x":13,"y":-41},{"x":14,"y":-43},{"x":15,"y":-45},{"x":16,"y":-48},{"x":17,"y":-47},{"x":18,"y":-52},{"x":20,"y":-47},{"x":21,"y":-42},{"x":22,"y":-46},{"x":23,"y":-43},{"x":24,"y":-45},{"x":25,"y":-48},{"x":26,"y":-52},{"x":28,"y":-47},{"x":29,"y":-50},{"x":30,"y":-46},{"x":31,"y":-48},{"x":32,"y":-45},{"x":33,"y":-50},{"x":34,"y":-48},{"x":35,"y":-52},{"x":38,"y":-49},{"x":39,"y":-46},{"x":40,"y":-50},{"x":41,"y":-47},{"x":42,"y":-52},{"x":46,"y":-52},{"x":47,"y":-48},{"x":48,"y":-52},{"x":52,"y":-48},{"x":53,"y":-52},{"x":56,"y":-47},{"x":57,"y":-52},{"x":62,"y":-48},{"x":63,"y":-52},{"x":70,"y":-47},{"x":71,"y":-52},{"x":74,"y":-50},{"x":75,"y":-52},{"x":76,"y":-48},{"x":77,"y":-52},{"x":80,"y":-49},{"x":81,"y":-52},{"x":90,"y":-52}],
"aH_cm": [{"x":-90,"y":-37},{"x":-89,"y":-40},{"x":-88,"y":-44},{"x":-87,"y":-35},{"x":-86,"y":-38},{"x":-85,"y":-34},{"x":-84,"y":-40},{"x":-83,"y":-33},{"x":-82,"y":-37},{"x":-81,"y":-34},{"x":-80,"y":-38},{"x":-79,"y":-33},{"x":-78,"y":-36},{"x":-77,"y":-40},{"x":-76,"y":-45},{"x":-75,"y":-30},{"x":-74,"y":-32},{"x":-73,"y":-29},{"x":-72,"y":-31},{"x":-71,"y":-28},{"x":-70,"y":-30},{"x":-69,"y":-34},{"x":-68,"y":-29},{"x":-67,"y":-31},{"x":-66,"y":-30},{"x":-65,"y":-28},{"x":-64,"y":-30},{"x":-63,"y":-32},{"x":-62,"y":-28},{"x":-61,"y":-26},{"x":-60,"y":-29},{"x":-59,"y":-34},{"x":-58,"y":-40},{"x":-57,"y":-35},{"x":-56,"y":-30},{"x":-55,"y":-33},{"x":-54,"y":-28},{"x":-53,"y":-31},{"x":-52,"y":-27},{"x":-51,"y":-29},{"x":-50,"y":-33},{"x":-49,"y":-29},{"x":-48,"y":-31},{"x":-47,"y":-27},{"x":-46,"y":-30},{"x":-45,"y":-34},{"x":-44,"y":-37},{"x":-43,"y":-42},{"x":-42,"y":-38},{"x":-41,"y":-28},{"x":-40,"y":-23},{"x":-39,"y":-21},{"x":-38,"y":-19.5},{"x":-37,"y":-18.5},{"x":-36,"y":-18},{"x":-35,"y":-19},{"x":-34,"y":-20},{"x":-33,"y":-22},{"x":-32,"y":-24},{"x":-31,"y":-30},{"x":-30,"y":-34},{"x":-29,"y":-28},{"x":-28,"y":-22},{"x":-27,"y":-19},{"x":-26,"y":-18},{"x":-25,"y":-17.5},{"x":-24,"y":-19},{"x":-23,"y":-21},{"x":-22,"y":-24},{"x":-21,"y":-30},{"x":-20,"y":-34},{"x":-19,"y":-24},{"x":-18,"y":-19},{"x":-17,"y":-16},{"x":-16,"y":-14},{"x":-15,"y":-13},{"x":-14,"y":-12.5},{"x":-13,"y":-13.5},{"x":-12,"y":-15},{"x":-11,"y":-18},{"x":-10,"y":-24},{"x":-9,"y":-20},{"x":-8,"y":-14},{"x":-6,"y":-7},{"x":-4,"y":-3},{"x":-2,"y":-0.7},{"x":0,"y":0},{"x":2,"y":-1},{"x":4,"y":-3},{"x":6,"y":-6},{"x":8,"y":-12},{"x":9,"y":-20},{"x":10,"y":-27},{"x":11,"y":-20},{"x":12,"y":-15.5},{"x":13,"y":-14},{"x":14,"y":-14.5},{"x":15,"y":-15.5},{"x":16,"y":-18},{"x":17,"y":-22},{"x":18,"y":-26},{"x":19,"y":-23},{"x":20,"y":-20},{"x":21,"y":-19},{"x":22,"y":-18},{"x":23,"y":-18},{"x":24,"y":-18.5},{"x":25,"y":-21},{"x":26,"y":-24},{"x":27,"y":-32},{"x":28,"y":-40},{"x":29,"y":-45},{"x":30,"y":-52},{"x":31,"y":-32},{"x":32,"y":-27},{"x":33,"y":-25},{"x":34,"y":-29},{"x":35,"y":-26},{"x":36,"y":-23},{"x":37,"y":-28},{"x":38,"y":-30},{"x":39,"y":-33},{"x":40,"y":-37},{"x":41,"y":-31},{"x":42,"y":-28},{"x":43,"y":-30},{"x":44,"y":-24},{"x":45,"y":-21},{"x":46,"y":-20},{"x":47,"y":-23},{"x":48,"y":-22},{"x":49,"y":-25},{"x":50,"y":-23},{"x":51,"y":-28},{"x":52,"y":-32},{"x":53,"y":-35},{"x":54,"y":-39},{"x":55,"y":-30},{"x":56,"y":-33},{"x":57,"y":-29},{"x":58,"y":-36},{"x":59,"y":-31},{"x":60,"y":-29},{"x":61,"y":-27},{"x":62,"y":-30},{"x":63,"y":-28},{"x":64,"y":-31},{"x":65,"y":-27},{"x":66,"y":-30},{"x":67,"y":-28},{"x":68,"y":-33},{"x":69,"y":-30},{"x":70,"y":-35},{"x":71,"y":-31},{"x":72,"y":-37},{"x":73,"y":-34},{"x":74,"y":-36},{"x":75,"y":-33},{"x":76,"y":-38},{"x":77,"y":-34},{"x":78,"y":-37},{"x":79,"y":-33},{"x":80,"y":-36},{"x":81,"y":-34},{"x":82,"y":-38},{"x":83,"y":-33},{"x":84,"y":-37},{"x":85,"y":-35},{"x":86,"y":-38},{"x":87,"y":-34},{"x":88,"y":-37},{"x":89,"y":-36},{"x":90,"y":-39}],
"aH_cs": [{"x":-90,"y":-52},{"x":-87,"y":-50},{"x":-85,"y":-46},{"x":-83,"y":-40},{"x":-81,"y":-35},{"x":-78,"y":-30},{"x":-75,"y":-28},{"x":-72,"y":-27},{"x":-69,"y":-26.5},{"x":-66,"y":-26.5},{"x":-63,"y":-28.5},{"x":-61,"y":-32},{"x":-59,"y":-38},{"x":-57,"y":-42},{"x":-55,"y":-36},{"x":-53,"y":-29},{"x":-51,"y":-25},{"x":-49,"y":-23},{"x":-47,"y":-24},{"x":-45,"y":-28},{"x":-44,"y":-33},{"x":-43,"y":-45},{"x":-42,"y":-52},{"x":-41,"y":-40},{"x":-40,"y":-30},{"x":-38,"y":-23},{"x":-36,"y":-20},{"x":-34,"y":-20.5},{"x":-32,"y":-24},{"x":-31,"y":-30},{"x":-30,"y":-47},{"x":-29,"y":-30},{"x":-28,"y":-23},{"x":-26,"y":-18.5},{"x":-25,"y":-17.5},{"x":-23,"y":-19.5},{"x":-21,"y":-27},{"x":-20,"y":-34},{"x":-19,"y":-25},{"x":-17,"y":-16},{"x":-15,"y":-13},{"x":-14,"y":-12.5},{"x":-13,"y":-13},{"x":-12,"y":-16},{"x":-10.5,"y":-30},{"x":-9,"y":-18},{"x":-7,"y":-9},{"x":-5,"y":-4},{"x":-3,"y":-1.5},{"x":0,"y":0},{"x":3,"y":-1.5},{"x":5,"y":-4},{"x":7,"y":-9},{"x":9,"y":-20},{"x":10.5,"y":-31},{"x":12,"y":-17},{"x":13.5,"y":-14},{"x":15,"y":-15},{"x":17,"y":-22},{"x":19,"y":-34},{"x":21,"y":-22},{"x":23,"y":-18},{"x":25,"y":-20},{"x":27,"y":-30},{"x":28,"y":-45},{"x":29,"y":-52},{"x":30,"y":-42},{"x":31,"y":-30},{"x":33,"y":-23},{"x":35,"y":-20.8},{"x":37,"y":-22},{"x":39,"y":-27},{"x":41,"y":-40},{"x":42,"y":-52},{"x":43,"y":-40},{"x":45,"y":-28},{"x":47,"y":-24},{"x":48,"y":-23.5},{"x":50,"y":-24},{"x":52,"y":-28},{"x":54,"y":-34},{"x":56,"y":-41},{"x":57,"y":-44},{"x":58,"y":-40},{"x":60,"y":-32},{"x":62,"y":-28},{"x":64,"y":-26.5},{"x":66,"y":-27},{"x":69,"y":-28},{"x":72,"y":-30},{"x":75,"y":-33},{"x":78,"y":-36},{"x":81,"y":-39},{"x":84,"y":-41},{"x":87,"y":-42},{"x":90,"y":-43}],
"aH_xm": [{"x":-90,"y":-52},{"x":-89,"y":-50},{"x":-88,"y":-52},{"x":-86,"y":-48},{"x":-85,"y":-52},{"x":-83,"y":-52},{"x":-82,"y":-49},{"x":-81,"y":-46},{"x":-80,"y":-48},{"x":-79,"y":-45},{"x":-78,"y":-47},{"x":-77,"y":-44},{"x":-76,"y":-46},{"x":-75,"y":-45},{"x":-74,"y":-47},{"x":-73,"y":-44},{"x":-72,"y":-45},{"x":-71,"y":-43},{"x":-70,"y":-46},{"x":-69,"y":-45},{"x":-68,"y":-43},{"x":-67,"y":-45},{"x":-66,"y":-42},{"x":-65,"y":-46},{"x":-64,"y":-47},{"x":-63,"y":-44},{"x":-62,"y":-45},{"x":-61,"y":-42},{"x":-60,"y":-40},{"x":-59,"y":-44},{"x":-58,"y":-45},{"x":-57,"y":-47},{"x":-56,"y":-46},{"x":-55,"y":-48},{"x":-54,"y":-47},{"x":-53,"y":-45},{"x":-52,"y":-44},{"x":-51,"y":-46},{"x":-50,"y":-45},{"x":-49,"y":-43},{"x":-48,"y":-44},{"x":-47,"y":-46},{"x":-46,"y":-47},{"x":-45,"y":-49},{"x":-44,"y":-50},{"x":-43,"y":-52},{"x":-41,"y":-52},{"x":-40,"y":-46},{"x":-39,"y":-43},{"x":-38,"y":-41},{"x":-37,"y":-40},{"x":-36,"y":-40.5},{"x":-35,"y":-42},{"x":-34,"y":-41},{"x":-33,"y":-43},{"x":-32,"y":-44},{"x":-31,"y":-46},{"x":-30,"y":-45},{"x":-29,"y":-48},{"x":-28,"y":-50},{"x":-27,"y":-47},{"x":-26,"y":-48},{"x":-25,"y":-50},{"x":-24,"y":-49},{"x":-23,"y":-47},{"x":-22,"y":-46},{"x":-21,"y":-48},{"x":-20,"y":-44},{"x":-19,"y":-45},{"x":-18,"y":-48},{"x":-17,"y":-46},{"x":-16,"y":-45},{"x":-15,"y":-43},{"x":-14,"y":-42},{"x":-13,"y":-39},{"x":-12,"y":-40},{"x":-11,"y":-41},{"x":-10,"y":-43},{"x":-9,"y":-44},{"x":-8,"y":-45},{"x":-7,"y":-44},{"x":-6,"y":-45},{"x":-5,"y":-48},{"x":-4,"y":-50},{"x":-3,"y":-42},{"x":-2,"y":-35},{"x":-1,"y":-31},{"x":0,"y":-30},{"x":1,"y":-31},{"x":2,"y":-32},{"x":3,"y":-32.5},{"x":4,"y":-33},{"x":5,"y":-32.5},{"x":6,"y":-33},{"x":7,"y":-33.5},{"x":8,"y":-34},{"x":9,"y":-36},{"x":10,"y":-45},{"x":11,"y":-52},{"x":13,"y":-52},{"x":14,"y":-48},{"x":15,"y":-46},{"x":16,"y":-47},{"x":17,"y":-46},{"x":18,"y":-47},{"x":19,"y":-45},{"x":20,"y":-46},{"x":21,"y":-45},{"x":22,"y":-46},{"x":23,"y":-45},{"x":24,"y":-45},{"x":25,"y":-47},{"x":26,"y":-49},{"x":27,"y":-52},{"x":28,"y":-48},{"x":29,"y":-52},{"x":30,"y":-48},{"x":31,"y":-46},{"x":32,"y":-47},{"x":33,"y":-44},{"x":34,"y":-43},{"x":35,"y":-45},{"x":36,"y":-44},{"x":37,"y":-46},{"x":38,"y":-47},{"x":39,"y":-45},{"x":40,"y":-44},{"x":41,"y":-46},{"x":42,"y":-45},{"x":43,"y":-47},{"x":44,"y":-49},{"x":45,"y":-44},{"x":46,"y":-43},{"x":47,"y":-41},{"x":48,"y":-40},{"x":49,"y":-43},{"x":50,"y":-44},{"x":51,"y":-46},{"x":52,"y":-45},{"x":53,"y":-47},{"x":54,"y":-49},{"x":55,"y":-46},{"x":56,"y":-44},{"x":57,"y":-42},{"x":58,"y":-41},{"x":59,"y":-43},{"x":60,"y":-44},{"x":61,"y":-42},{"x":62,"y":-45},{"x":63,"y":-43},{"x":64,"y":-42},{"x":65,"y":-44},{"x":66,"y":-43},{"x":67,"y":-45},{"x":68,"y":-47},{"x":69,"y":-45},{"x":70,"y":-44},{"x":71,"y":-42},{"x":72,"y":-41},{"x":73,"y":-43},{"x":74,"y":-45},{"x":75,"y":-44},{"x":76,"y":-43},{"x":77,"y":-45},{"x":78,"y":-46},{"x":79,"y":-44},{"x":80,"y":-43},{"x":81,"y":-45},{"x":82,"y":-48},{"x":83,"y":-46},{"x":84,"y":-50},{"x":85,"y":-48},{"x":86,"y":-47},{"x":87,"y":-45},{"x":88,"y":-44},{"x":89,"y":-46},{"x":90,"y":-47}],
"bH_cm": [{"x":-90,"y":-40},{"x":-89,"y":-44},{"x":-88,"y":-42},{"x":-87,"y":-47},{"x":-86,"y":-40},{"x":-85,"y":-38},{"x":-84,"y":-43},{"x":-83,"y":-40},{"x":-82,"y":-45},{"x":-81,"y":-37},{"x":-80,"y":-42},{"x":-79,"y":-36},{"x":-78,"y":-39},{"x":-77,"y":-35},{"x":-76,"y":-37},{"x":-75,"y":-34},{"x":-74,"y":-36},{"x":-73,"y":-34},{"x":-72,"y":-33},{"x":-71,"y":-31},{"x":-70,"y":-30},{"x":-69,"y":-28},{"x":-68,"y":-27},{"x":-67,"y":-26},{"x":-66,"y":-26},{"x":-65,"y":-25},{"x":-64,"y":-25},{"x":-63,"y":-25.5},{"x":-62,"y":-25},{"x":-61,"y":-25.5},{"x":-60,"y":-25},{"x":-59,"y":-26},{"x":-58,"y":-27},{"x":-57,"y":-30},{"x":-56,"y":-33},{"x":-55,"y":-38},{"x":-54,"y":-42},{"x":-53,"y":-36},{"x":-52,"y":-28},{"x":-51,"y":-26},{"x":-50,"y":-24},{"x":-49,"y":-23.5},{"x":-48,"y":-23.5},{"x":-47,"y":-24.5},{"x":-46,"y":-25},{"x":-45,"y":-24.5},{"x":-44,"y":-25.5},{"x":-43,"y":-28},{"x":-42,"y":-35},{"x":-41,"y":-40},{"x":-40,"y":-33},{"x":-39,"y":-27},{"x":-38,"y":-24},{"x":-37,"y":-21.5},{"x":-36,"y":-20.5},{"x":-35,"y":-20},{"x":-34,"y":-20.5},{"x":-33,"y":-21},{"x":-32,"y":-22},{"x":-31,"y":-25},{"x":-30,"y":-28},{"x":-29,"y":-35},{"x":-28,"y":-30},{"x":-27,"y":-23},{"x":-26,"y":-20},{"x":-25,"y":-18.5},{"x":-24,"y":-17.5},{"x":-23,"y":-17},{"x":-22,"y":-17},{"x":-21,"y":-19},{"x":-20,"y":-22},{"x":-19,"y":-25},{"x":-18,"y":-31},{"x":-17,"y":-22},{"x":-16,"y":-17},{"x":-15,"y":-15},{"x":-14,"y":-14},{"x":-13,"y":-13.5},{"x":-12,"y":-14},{"x":-11,"y":-16},{"x":-10,"y":-22},{"x":-9,"y":-30},{"x":-8,"y":-20},{"x":-6,"y":-9},{"x":-4,"y":-3.5},{"x":-2,"y":-0.8},{"x":0,"y":0},{"x":2,"y":-0.8},{"x":4,"y":-3.5},{"x":6,"y":-8},{"x":8,"y":-15},{"x":9,"y":-23},{"x":10,"y":-20},{"x":11,"y":-15},{"x":12,"y":-13.5},{"x":13,"y":-13},{"x":14,"y":-13.5},{"x":15,"y":-14.5},{"x":16,"y":-17},{"x":17,"y":-20},{"x":18,"y":-26},{"x":19,"y":-30},{"x":20,"y":-22},{"x":21,"y":-19},{"x":22,"y":-18},{"x":23,"y":-18.5},{"x":24,"y":-20},{"x":25,"y":-23},{"x":26,"y":-27},{"x":27,"y":-32},{"x":28,"y":-38},{"x":29,"y":-33},{"x":30,"y":-27},{"x":31,"y":-23},{"x":32,"y":-21},{"x":33,"y":-20.5},{"x":34,"y":-21},{"x":35,"y":-22},{"x":36,"y":-24},{"x":37,"y":-28},{"x":38,"y":-32},{"x":39,"y":-36},{"x":40,"y":-52},{"x":41,"y":-34},{"x":42,"y":-29},{"x":43,"y":-26},{"x":44,"y":-24},{"x":45,"y":-23},{"x":46,"y":-23},{"x":47,"y":-23.5},{"x":48,"y":-24.5},{"x":49,"y":-27},{"x":50,"y":-32},{"x":51,"y":-38},{"x":52,"y":-47},{"x":53,"y":-40},{"x":54,"y":-33},{"x":55,"y":-30},{"x":56,"y":-28},{"x":57,"y":-28},{"x":58,"y":-28.5},{"x":59,"y":-28.5},{"x":60,"y":-27},{"x":61,"y":-26.5},{"x":62,"y":-26},{"x":63,"y":-25},{"x":64,"y":-25.5},{"x":65,"y":-25},{"x":66,"y":-26},{"x":67,"y":-27},{"x":68,"y":-28},{"x":69,"y":-31},{"x":70,"y":-34},{"x":71,"y":-37},{"x":72,"y":-42},{"x":73,"y":-46},{"x":74,"y":-40},{"x":75,"y":-38},{"x":76,"y":-42},{"x":77,"y":-36},{"x":78,"y":-45},{"x":79,"y":-40},{"x":80,"y":-37},{"x":81,"y":-43},{"x":82,"y":-37},{"x":83,"y":-44},{"x":84,"y":-39},{"x":85,"y":-35},{"x":86,"y":-40},{"x":87,"y":-36},{"x":88,"y":-42},{"x":89,"y":-35},{"x":90,"y":-38}],
"bH_cs": [{"x":-90,"y":-50},{"x":-88,"y":-48},{"x":-86,"y":-46},{"x":-84,"y":-43},{"x":-82,"y":-41.5},{"x":-80,"y":-41},{"x":-78,"y":-40},{"x":-76,"y":-36},{"x":-74,"y":-32},{"x":-72,"y":-29},{"x":-70,"y":-27.5},{"x":-67,"y":-26},{"x":-64,"y":-25},{"x":-61,"y":-25},{"x":-59,"y":-26},{"x":-57,"y":-29},{"x":-55,"y":-34},{"x":-54,"y":-40},{"x":-53,"y":-38},{"x":-52,"y":-32},{"x":-50,"y":-26},{"x":-48,"y":-23},{"x":-46,"y":-22.5},{"x":-44,"y":-24},{"x":-42,"y":-28},{"x":-41,"y":-35},{"x":-40,"y":-46},{"x":-39,"y":-38},{"x":-37,"y":-27},{"x":-35,"y":-21.5},{"x":-33,"y":-20},{"x":-31,"y":-21.5},{"x":-30,"y":-25},{"x":-29,"y":-38},{"x":-28,"y":-27},{"x":-26,"y":-20},{"x":-24,"y":-17.5},{"x":-22,"y":-17},{"x":-20,"y":-19.5},{"x":-19,"y":-24},{"x":-18,"y":-31},{"x":-17,"y":-23},{"x":-15,"y":-16},{"x":-13,"y":-13.5},{"x":-12,"y":-14},{"x":-11,"y":-17},{"x":-10,"y":-23},{"x":-9,"y":-35},{"x":-8,"y":-20},{"x":-7,"y":-12},{"x":-5,"y":-5},{"x":-3,"y":-1.5},{"x":0,"y":0},{"x":3,"y":-1.5},{"x":5,"y":-5},{"x":7,"y":-11},{"x":8,"y":-19},{"x":9,"y":-35},{"x":10,"y":-22},{"x":11,"y":-16},{"x":13,"y":-13},{"x":15,"y":-14.5},{"x":17,"y":-21},{"x":18,"y":-26},{"x":19,"y":-31},{"x":20,"y":-24},{"x":21,"y":-20},{"x":23,"y":-18},{"x":25,"y":-20},{"x":27,"y":-28},{"x":28.5,"y":-37},{"x":29.5,"y":-30},{"x":31,"y":-23},{"x":33,"y":-20.5},{"x":35,"y":-21},{"x":37,"y":-26},{"x":38,"y":-31},{"x":39,"y":-38},{"x":40,"y":-46},{"x":41,"y":-36},{"x":42,"y":-29},{"x":44,"y":-24},{"x":46,"y":-23},{"x":48,"y":-24.5},{"x":50,"y":-30},{"x":51,"y":-36},{"x":52,"y":-44},{"x":53,"y":-40},{"x":54,"y":-34},{"x":56,"y":-29},{"x":58,"y":-27},{"x":61,"y":-26},{"x":64,"y":-25.5},{"x":66,"y":-26},{"x":68,"y":-28},{"x":70,"y":-31},{"x":72,"y":-35},{"x":74,"y":-40},{"x":75,"y":-44},{"x":76,"y":-48},{"x":77,"y":-52},{"x":79,"y":-52},{"x":80,"y":-48},{"x":82,"y":-46},{"x":84,"y":-44.5},{"x":87,"y":-43},{"x":90,"y":-42}],
"bH_xm": [{"x":-90,"y":-50},{"x":-89,"y":-48},{"x":-88,"y":-46},{"x":-87,"y":-49},{"x":-86,"y":-52},{"x":-85,"y":-48},{"x":-84,"y":-46},{"x":-83,"y":-47},{"x":-82,"y":-49},{"x":-81,"y":-52},{"x":-79,"y":-52},{"x":-78,"y":-47},{"x":-77,"y":-48},{"x":-76,"y":-50},{"x":-75,"y":-52},{"x":-74,"y":-48},{"x":-73,"y":-45},{"x":-72,"y":-43},{"x":-71,"y":-41},{"x":-70,"y":-41},{"x":-69,"y":-42},{"x":-68,"y":-41},{"x":-67,"y":-44},{"x":-66,"y":-47},{"x":-65,"y":-45},{"x":-64,"y":-42},{"x":-63,"y":-43},{"x":-62,"y":-44},{"x":-61,"y":-42},{"x":-60,"y":-41},{"x":-59,"y":-43},{"x":-58,"y":-42},{"x":-57,"y":-41},{"x":-56,"y":-40},{"x":-55,"y":-41},{"x":-54,"y":-42},{"x":-53,"y":-44},{"x":-52,"y":-45},{"x":-51,"y":-46},{"x":-50,"y":-44},{"x":-49,"y":-47},{"x":-48,"y":-49},{"x":-47,"y":-50},{"x":-46,"y":-52},{"x":-42,"y":-52},{"x":-41,"y":-46},{"x":-40,"y":-44},{"x":-39,"y":-45},{"x":-38,"y":-47},{"x":-37,"y":-48},{"x":-36,"y":-47},{"x":-35,"y":-48},{"x":-34,"y":-46},{"x":-33,"y":-45},{"x":-32,"y":-44},{"x":-31,"y":-43},{"x":-30,"y":-44},{"x":-29,"y":-42},{"x":-28,"y":-41},{"x":-27,"y":-43},{"x":-26,"y":-45},{"x":-25,"y":-48},{"x":-24,"y":-50},{"x":-23,"y":-52},{"x":-21,"y":-52},{"x":-20,"y":-47},{"x":-19,"y":-46},{"x":-18,"y":-47},{"x":-17,"y":-50},{"x":-16,"y":-52},{"x":-13,"y":-52},{"x":-12,"y":-47},{"x":-11,"y":-45},{"x":-10,"y":-42},{"x":-9,"y":-40},{"x":-8,"y":-38},{"x":-7,"y":-36},{"x":-6,"y":-34},{"x":-5,"y":-32},{"x":-4,"y":-31},{"x":-3,"y":-30},{"x":-2,"y":-30},{"x":-1,"y":-30},{"x":0,"y":-30.5},{"x":1,"y":-32},{"x":2,"y":-33},{"x":3,"y":-38},{"x":4,"y":-45},{"x":5,"y":-46},{"x":6,"y":-44},{"x":7,"y":-43},{"x":8,"y":-41},{"x":9,"y":-41},{"x":10,"y":-43},{"x":11,"y":-44},{"x":12,"y":-46},{"x":13,"y":-45},{"x":14,"y":-44},{"x":15,"y":-43},{"x":16,"y":-42},{"x":17,"y":-44},{"x":18,"y":-43},{"x":19,"y":-42},{"x":20,"y":-42},{"x":21,"y":-44},{"x":22,"y":-45},{"x":23,"y":-43},{"x":24,"y":-44},{"x":25,"y":-46},{"x":26,"y":-48},{"x":27,"y":-49},{"x":28,"y":-50},{"x":29,"y":-48},{"x":30,"y":-46},{"x":31,"y":-44},{"x":32,"y":-43},{"x":33,"y":-42},{"x":34,"y":-42},{"x":35,"y":-44},{"x":36,"y":-43},{"x":37,"y":-45},{"x":38,"y":-44},{"x":39,"y":-42},{"x":40,"y":-41},{"x":41,"y":-44},{"x":42,"y":-47},{"x":43,"y":-46},{"x":44,"y":-45},{"x":45,"y":-44},{"x":46,"y":-43},{"x":47,"y":-41},{"x":48,"y":-40},{"x":49,"y":-41},{"x":50,"y":-42},{"x":51,"y":-40},{"x":52,"y":-41},{"x":53,"y":-42},{"x":54,"y":-43},{"x":55,"y":-41},{"x":56,"y":-42},{"x":57,"y":-40},{"x":58,"y":-41},{"x":59,"y":-42},{"x":60,"y":-43},{"x":61,"y":-42},{"x":62,"y":-44},{"x":63,"y":-45},{"x":64,"y":-46},{"x":65,"y":-47},{"x":66,"y":-47},{"x":67,"y":-46},{"x":68,"y":-45},{"x":69,"y":-44},{"x":70,"y":-43},{"x":71,"y":-42},{"x":72,"y":-42},{"x":73,"y":-44},{"x":74,"y":-47},{"x":75,"y":-49},{"x":76,"y":-50},{"x":77,"y":-52},{"x":78,"y":-52},{"x":79,"y":-49},{"x":80,"y":-48},{"x":81,"y":-47},{"x":82,"y":-47},{"x":83,"y":-49},{"x":84,"y":-48},{"x":85,"y":-47},{"x":86,"y":-46},{"x":87,"y":-48},{"x":88,"y":-50},{"x":89,"y":-49},{"x":90,"y":-48}],
"cH_cm": [{"x":-90,"y":-36},{"x":-89,"y":-41},{"x":-88,"y":-35},{"x":-87,"y":-37},{"x":-86,"y":-34},{"x":-85,"y":-35},{"x":-84,"y":-33},{"x":-83,"y":-35},{"x":-82,"y":-33},{"x":-81,"y":-34},{"x":-80,"y":-32},{"x":-79,"y":-33},{"x":-78,"y":-32},{"x":-77,"y":-28},{"x":-76,"y":-31},{"x":-75,"y":-30},{"x":-74,"y":-32},{"x":-73,"y":-31},{"x":-72,"y":-30},{"x":-71,"y":-31},{"x":-70,"y":-30},{"x":-69,"y":-32},{"x":-68,"y":-35},{"x":-67,"y":-38},{"x":-66,"y":-40},{"x":-65,"y":-43},{"x":-64,"y":-42},{"x":-63,"y":-35},{"x":-62,"y":-30},{"x":-61,"y":-27},{"x":-60,"y":-26},{"x":-59,"y":-24},{"x":-58,"y":-25},{"x":-57,"y":-24.5},{"x":-56,"y":-26},{"x":-55,"y":-25},{"x":-54,"y":-27},{"x":-53,"y":-30},{"x":-52,"y":-38},{"x":-51,"y":-45},{"x":-50,"y":-49},{"x":-49,"y":-40},{"x":-48,"y":-30},{"x":-46,"y":-25},{"x":-44,"y":-23.5},{"x":-42,"y":-23},{"x":-40,"y":-24},{"x":-38,"y":-27},{"x":-37,"y":-30},{"x":-36,"y":-34},{"x":-35,"y":-30},{"x":-33,"y":-23},{"x":-31,"y":-21},{"x":-29,"y":-22},{"x":-27,"y":-27},{"x":-26,"y":-33},{"x":-25,"y":-38},{"x":-24,"y":-30},{"x":-22,"y":-21},{"x":-20,"y":-18.5},{"x":-18,"y":-19},{"x":-17,"y":-23},{"x":-16,"y":-30},{"x":-15,"y":-36},{"x":-14,"y":-25},{"x":-12,"y":-16},{"x":-10,"y":-14},{"x":-9,"y":-15},{"x":-8,"y":-20},{"x":-7,"y":-27},{"x":-6,"y":-20},{"x":-5,"y":-12},{"x":-4,"y":-5},{"x":-2,"y":-1},{"x":0,"y":0},{"x":2,"y":-1},{"x":4,"y":-4},{"x":6,"y":-10},{"x":7,"y":-19},{"x":8,"y":-28},{"x":9,"y":-22},{"x":10,"y":-16},{"x":11,"y":-14},{"x":12,"y":-14.5},{"x":14,"y":-19},{"x":15,"y":-27},{"x":16,"y":-30},{"x":17,"y":-24},{"x":19,"y":-19},{"x":21,"y":-17.5},{"x":23,"y":-19},{"x":25,"y":-26},{"x":26,"y":-35},{"x":27,"y":-47},{"x":28,"y":-33},{"x":30,"y":-23},{"x":32,"y":-20},{"x":34,"y":-21.5},{"x":36,"y":-27},{"x":38,"y":-40},{"x":39,"y":-52},{"x":40,"y":-38},{"x":42,"y":-27},{"x":44,"y":-24},{"x":46,"y":-23.5},{"x":48,"y":-27},{"x":49,"y":-33},{"x":50,"y":-43},{"x":51,"y":-36},{"x":52,"y":-30},{"x":54,"y":-27},{"x":55,"y":-25},{"x":56,"y":-26.5},{"x":58,"y":-28},{"x":60,"y":-30},{"x":61,"y":-36},{"x":62,"y":-33},{"x":63,"y":-40},{"x":64,"y":-38},{"x":65,"y":-35},{"x":66,"y":-33},{"x":67,"y":-36},{"x":68,"y":-31},{"x":69,"y":-34},{"x":70,"y":-32},{"x":71,"y":-33},{"x":72,"y":-31},{"x":73,"y":-36},{"x":74,"y":-29},{"x":75,"y":-34},{"x":76,"y":-30},{"x":77,"y":-37},{"x":78,"y":-32},{"x":79,"y":-38},{"x":80,"y":-33},{"x":81,"y":-35},{"x":82,"y":-38},{"x":83,"y":-34},{"x":84,"y":-40},{"x":85,"y":-37},{"x":86,"y":-42},{"x":87,"y":-38},{"x":88,"y":-41},{"x":89,"y":-39},{"x":90,"y":-43}],
"cH_cs": [{"x":-90,"y":-50},{"x":-88,"y":-46},{"x":-86,"y":-42},{"x":-84,"y":-39},{"x":-82,"y":-36},{"x":-79,"y":-33},{"x":-76,"y":-31},{"x":-73,"y":-30},{"x":-71,"y":-31},{"x":-69,"y":-34},{"x":-67,"y":-40},{"x":-65,"y":-44},{"x":-64,"y":-42},{"x":-62,"y":-32},{"x":-60,"y":-27},{"x":-58,"y":-25},{"x":-56,"y":-24},{"x":-54,"y":-25},{"x":-52,"y":-29},{"x":-50,"y":-40},{"x":-49,"y":-45},{"x":-48,"y":-33},{"x":-46,"y":-26},{"x":-44,"y":-23.5},{"x":-42,"y":-23},{"x":-40,"y":-24},{"x":-38,"y":-28},{"x":-36,"y":-43},{"x":-35,"y":-38},{"x":-33,"y":-25},{"x":-31,"y":-21},{"x":-29,"y":-22},{"x":-27,"y":-27},{"x":-26,"y":-35},{"x":-25,"y":-47},{"x":-24,"y":-32},{"x":-22,"y":-21},{"x":-20,"y":-18.5},{"x":-18,"y":-19},{"x":-16,"y":-26},{"x":-15,"y":-35},{"x":-13,"y":-20},{"x":-11,"y":-15},{"x":-10,"y":-14},{"x":-9,"y":-16},{"x":-8,"y":-29},{"x":-7,"y":-18},{"x":-5,"y":-7},{"x":-3,"y":-2},{"x":0,"y":0},{"x":3,"y":-2},{"x":5,"y":-7},{"x":7,"y":-15},{"x":8.5,"y":-31},{"x":10,"y":-17},{"x":12,"y":-14},{"x":14,"y":-16},{"x":16,"y":-30},{"x":17,"y":-25},{"x":19,"y":-19},{"x":21,"y":-17.5},{"x":23,"y":-19},{"x":25,"y":-27},{"x":26.5,"y":-42},{"x":27,"y":-50},{"x":28,"y":-35},{"x":30,"y":-23},{"x":32,"y":-20},{"x":34,"y":-21.5},{"x":36,"y":-28},{"x":38,"y":-45},{"x":40,"y":-36},{"x":42,"y":-27},{"x":44,"y":-24},{"x":46,"y":-24},{"x":48,"y":-28},{"x":50,"y":-42},{"x":51,"y":-47},{"x":52,"y":-35},{"x":54,"y":-27},{"x":56,"y":-25},{"x":58,"y":-26},{"x":60,"y":-30},{"x":62,"y":-35},{"x":64,"y":-40},{"x":65,"y":-41},{"x":67,"y":-36},{"x":70,"y":-32},{"x":74,"y":-31},{"x":78,"y":-32},{"x":82,"y":-35},{"x":86,"y":-40},{"x":90,"y":-43}],
"cH_xm": [{"x":-90,"y":-52},{"x":-89,"y":-50},{"x":-88,"y":-47.5},{"x":-87,"y":-49},{"x":-86,"y":-46},{"x":-85,"y":-47},{"x":-84,"y":-48},{"x":-83,"y":-46},{"x":-82,"y":-45},{"x":-81,"y":-46},{"x":-80,"y":-47},{"x":-79,"y":-45},{"x":-78,"y":-46},{"x":-77,"y":-44},{"x":-76,"y":-44},{"x":-75,"y":-46},{"x":-74,"y":-45},{"x":-73,"y":-43},{"x":-72,"y":-43},{"x":-71,"y":-48},{"x":-70,"y":-47},{"x":-69,"y":-49},{"x":-68,"y":-44},{"x":-67,"y":-45},{"x":-66,"y":-43},{"x":-65,"y":-45},{"x":-64,"y":-47},{"x":-63,"y":-45},{"x":-62,"y":-46},{"x":-61,"y":-43},{"x":-60,"y":-42},{"x":-59,"y":-44},{"x":-58,"y":-44},{"x":-57,"y":-45},{"x":-56,"y":-43},{"x":-55,"y":-44},{"x":-54,"y":-45},{"x":-53,"y":-46},{"x":-52,"y":-47},{"x":-51,"y":-48},{"x":-50,"y":-50},{"x":-49,"y":-52},{"x":-48,"y":-46},{"x":-47,"y":-45},{"x":-46,"y":-44},{"x":-45,"y":-46},{"x":-44,"y":-47},{"x":-43,"y":-45},{"x":-42,"y":-43},{"x":-41,"y":-42},{"x":-40,"y":-42},{"x":-39,"y":-41},{"x":-38,"y":-41},{"x":-37,"y":-42},{"x":-36,"y":-43},{"x":-35,"y":-44},{"x":-34,"y":-44},{"x":-33,"y":-46},{"x":-32,"y":-45},{"x":-31,"y":-44},{"x":-30,"y":-43},{"x":-29,"y":-42},{"x":-28,"y":-41},{"x":-27,"y":-40},{"x":-26,"y":-40},{"x":-25,"y":-41},{"x":-24,"y":-42},{"x":-23,"y":-42},{"x":-22,"y":-41.5},{"x":-21,"y":-42},{"x":-20,"y":-43},{"x":-19,"y":-44},{"x":-18,"y":-45},{"x":-17,"y":-43},{"x":-16,"y":-42},{"x":-15,"y":-41},{"x":-14,"y":-41},{"x":-13,"y":-41.5},{"x":-12,"y":-41.5},{"x":-11,"y":-42},{"x":-10,"y":-43},{"x":-9,"y":-44},{"x":-8,"y":-45},{"x":-7,"y":-44},{"x":-6,"y":-43},{"x":-5,"y":-40},{"x":-4,"y":-37},{"x":-3,"y":-35},{"x":-2,"y":-34},{"x":-1,"y":-33.5},{"x":0,"y":-33},{"x":1,"y":-32.5},{"x":2,"y":-32},{"x":3,"y":-31.5},{"x":4,"y":-31},{"x":5,"y":-31},{"x":6,"y":-33},{"x":7,"y":-37},{"x":8,"y":-40.5},{"x":9,"y":-45},{"x":10,"y":-50},{"x":11,"y":-52},{"x":20,"y":-52},{"x":21,"y":-50},{"x":22,"y":-49},{"x":23,"y":-52},{"x":27,"y":-52},{"x":28,"y":-48},{"x":29,"y":-52},{"x":37,"y":-52},{"x":38,"y":-48},{"x":39,"y":-52},{"x":47,"y":-52},{"x":48,"y":-46},{"x":49,"y":-47},{"x":50,"y":-45},{"x":51,"y":-45},{"x":52,"y":-44},{"x":53,"y":-44},{"x":54,"y":-43.5},{"x":55,"y":-45},{"x":56,"y":-48},{"x":57,"y":-52},{"x":70,"y":-52},{"x":71,"y":-49},{"x":72,"y":-49},{"x":73,"y":-52},{"x":84,"y":-52},{"x":85,"y":-49},{"x":86,"y":-52},{"x":90,"y":-52}],
"dH_cm": [{"x":-90,"y":-45},{"x":-89,"y":-35},{"x":-88,"y":-32},{"x":-87,"y":-38},{"x":-86,"y":-30},{"x":-85,"y":-33},{"x":-84,"y":-31},{"x":-83,"y":-36},{"x":-82,"y":-29},{"x":-81,"y":-33},{"x":-80,"y":-28},{"x":-79,"y":-32},{"x":-78,"y":-35},{"x":-77,"y":-28},{"x":-76,"y":-31},{"x":-75,"y":-27},{"x":-74,"y":-30},{"x":-73,"y":-26},{"x":-72,"y":-29},{"x":-71,"y":-28},{"x":-70,"y":-31},{"x":-69,"y":-27},{"x":-68,"y":-26},{"x":-67,"y":-30},{"x":-66,"y":-28},{"x":-65,"y":-27},{"x":-64,"y":-31},{"x":-63,"y":-29},{"x":-62,"y":-28},{"x":-61,"y":-32},{"x":-60,"y":-29},{"x":-59,"y":-27},{"x":-58,"y":-24},{"x":-57,"y":-22},{"x":-56,"y":-21},{"x":-55,"y":-23},{"x":-54,"y":-21},{"x":-53,"y":-22},{"x":-52,"y":-25},{"x":-51,"y":-28},{"x":-50,"y":-32},{"x":-49,"y":-35},{"x":-48,"y":-34},{"x":-47,"y":-30},{"x":-46,"y":-27},{"x":-45,"y":-24},{"x":-44,"y":-22},{"x":-43,"y":-24},{"x":-42,"y":-21},{"x":-41,"y":-23},{"x":-40,"y":-25},{"x":-39,"y":-22},{"x":-38,"y":-28},{"x":-37,"y":-30},{"x":-36,"y":-34},{"x":-35,"y":-38},{"x":-34,"y":-30},{"x":-33,"y":-25},{"x":-32,"y":-23},{"x":-31,"y":-21},{"x":-30,"y":-22},{"x":-29,"y":-25},{"x":-28,"y":-30},{"x":-27,"y":-33},{"x":-26,"y":-28},{"x":-25,"y":-24},{"x":-24,"y":-21},{"x":-23,"y":-20},{"x":-22,"y":-19},{"x":-21,"y":-22},{"x":-20,"y":-24},{"x":-19,"y":-28},{"x":-18,"y":-35},{"x":-17,"y":-30},{"x":-16,"y":-22},{"x":-15,"y":-16},{"x":-14,"y":-13},{"x":-13,"y":-12},{"x":-12,"y":-14},{"x":-11,"y":-17},{"x":-10,"y":-23},{"x":-9,"y":-28},{"x":-8,"y":-18},{"x":-6,"y":-8},{"x":-4,"y":-3},{"x":-2,"y":-0.7},{"x":0,"y":0},{"x":2,"y":-1},{"x":4,"y":-3},{"x":6,"y":-8},{"x":7,"y":-15},{"x":8,"y":-25},{"x":9,"y":-20},{"x":10,"y":-16},{"x":11,"y":-14.5},{"x":12,"y":-15},{"x":13,"y":-18},{"x":14,"y":-24},{"x":15,"y":-29},{"x":16,"y":-26},{"x":17,"y":-21},{"x":18,"y":-18},{"x":19,"y":-19},{"x":20,"y":-22},{"x":21,"y":-28},{"x":22,"y":-34},{"x":23,"y":-30},{"x":24,"y":-26},{"x":25,"y":-22},{"x":26,"y":-21},{"x":27,"y":-20},{"x":28,"y":-22},{"x":29,"y":-21},{"x":30,"y":-23},{"x":31,"y":-24},{"x":32,"y":-26},{"x":33,"y":-24},{"x":34,"y":-27},{"x":35,"y":-25},{"x":36,"y":-26},{"x":37,"y":-28},{"x":38,"y":-24},{"x":39,"y":-26},{"x":40,"y":-25},{"x":41,"y":-28},{"x":42,"y":-26},{"x":43,"y":-29},{"x":44,"y":-33},{"x":45,"y":-30},{"x":46,"y":-34},{"x":47,"y":-29},{"x":48,"y":-31},{"x":49,"y":-27},{"x":50,"y":-30},{"x":51,"y":-26},{"x":52,"y":-28},{"x":53,"y":-33},{"x":54,"y":-29},{"x":55,"y":-27},{"x":56,"y":-30},{"x":57,"y":-35},{"x":58,"y":-31},{"x":59,"y":-28},{"x":60,"y":-32},{"x":61,"y":-29},{"x":62,"y":-35},{"x":63,"y":-30},{"x":64,"y":-28},{"x":65,"y":-25},{"x":66,"y":-29},{"x":67,"y":-27},{"x":68,"y":-31},{"x":69,"y":-28},{"x":70,"y":-32},{"x":71,"y":-30},{"x":72,"y":-34},{"x":73,"y":-29},{"x":74,"y":-32},{"x":75,"y":-36},{"x":76,"y":-31},{"x":77,"y":-34},{"x":78,"y":-38},{"x":79,"y":-35},{"x":80,"y":-40},{"x":81,"y":-36},{"x":82,"y":-44},{"x":83,"y":-38},{"x":84,"y":-48},{"x":85,"y":-40},{"x":86,"y":-43},{"x":87,"y":-38},{"x":88,"y":-30},{"x":89,"y":-37},{"x":90,"y":-44}],
"dH_cs": [{"x":-90,"y":-52},{"x":-88,"y":-49},{"x":-86,"y":-46},{"x":-84,"y":-40},{"x":-82,"y":-36},{"x":-79,"y":-32},{"x":-76,"y":-29},{"x":-73,"y":-27},{"x":-70,"y":-26},{"x":-67,"y":-27},{"x":-65,"y":-30},{"x":-63,"y":-36},{"x":-61,"y":-44},{"x":-60,"y":-50},{"x":-58,"y":-38},{"x":-56,"y":-29},{"x":-54,"y":-26},{"x":-52,"y":-25},{"x":-50,"y":-28},{"x":-48,"y":-35},{"x":-47,"y":-45},{"x":-46,"y":-48},{"x":-45,"y":-42},{"x":-43,"y":-30},{"x":-41,"y":-24},{"x":-39,"y":-23},{"x":-37,"y":-26},{"x":-35,"y":-33},{"x":-34,"y":-40},{"x":-33,"y":-34},{"x":-31,"y":-24},{"x":-29,"y":-21.5},{"x":-27,"y":-23},{"x":-25,"y":-30},{"x":-24,"y":-38},{"x":-23,"y":-28},{"x":-21,"y":-20},{"x":-19,"y":-18.5},{"x":-17,"y":-21},{"x":-16,"y":-26},{"x":-15,"y":-22},{"x":-14,"y":-17},{"x":-12,"y":-14},{"x":-10,"y":-16},{"x":-9,"y":-20},{"x":-8,"y":-14},{"x":-7,"y":-10},{"x":-5,"y":-4},{"x":-3,"y":-1.5},{"x":0,"y":0},{"x":3,"y":-1.5},{"x":5,"y":-4},{"x":7,"y":-11},{"x":8.5,"y":-27},{"x":10,"y":-17},{"x":12,"y":-15},{"x":14,"y":-18},{"x":15,"y":-25},{"x":16,"y":-30},{"x":17,"y":-23},{"x":19,"y":-18.5},{"x":21,"y":-20},{"x":23,"y":-27},{"x":24,"y":-32},{"x":25,"y":-25},{"x":27,"y":-21},{"x":29,"y":-20},{"x":31,"y":-23},{"x":33,"y":-27},{"x":35,"y":-25},{"x":37,"y":-23},{"x":39,"y":-22.5},{"x":41,"y":-24},{"x":43,"y":-27},{"x":45,"y":-32},{"x":47,"y":-34},{"x":49,"y":-30},{"x":52,"y":-26},{"x":55,"y":-25},{"x":58,"y":-26},{"x":61,"y":-28},{"x":64,"y":-29},{"x":67,"y":-28},{"x":70,"y":-29},{"x":73,"y":-30},{"x":76,"y":-32},{"x":79,"y":-35},{"x":82,"y":-38},{"x":85,"y":-40},{"x":88,"y":-41},{"x":90,"y":-42}],
"dH_xm": [{"x":-90,"y":-48},{"x":-89,"y":-52},{"x":-88,"y":-46},{"x":-87,"y":-50},{"x":-86,"y":-44},{"x":-85,"y":-46},{"x":-84,"y":-38},{"x":-83,"y":-43},{"x":-82,"y":-37},{"x":-81,"y":-44},{"x":-80,"y":-40},{"x":-79,"y":-46},{"x":-78,"y":-40},{"x":-77,"y":-43},{"x":-76,"y":-39},{"x":-75,"y":-45},{"x":-74,"y":-42},{"x":-73,"y":-38},{"x":-72,"y":-41},{"x":-71,"y":-44},{"x":-70,"y":-40},{"x":-69,"y":-43},{"x":-68,"y":-39},{"x":-67,"y":-45},{"x":-66,"y":-41},{"x":-65,"y":-44},{"x":-64,"y":-40},{"x":-63,"y":-43},{"x":-62,"y":-46},{"x":-61,"y":-44},{"x":-60,"y":-49},{"x":-59,"y":-42},{"x":-58,"y":-39},{"x":-57,"y":-44},{"x":-56,"y":-37},{"x":-55,"y":-40},{"x":-54,"y":-36},{"x":-53,"y":-41},{"x":-52,"y":-38},{"x":-51,"y":-43},{"x":-50,"y":-35},{"x":-49,"y":-39},{"x":-48,"y":-42},{"x":-47,"y":-47},{"x":-46,"y":-50},{"x":-45,"y":-45},{"x":-44,"y":-40},{"x":-43,"y":-37},{"x":-42,"y":-41},{"x":-41,"y":-38},{"x":-40,"y":-42},{"x":-39,"y":-36},{"x":-38,"y":-40},{"x":-37,"y":-38},{"x":-36,"y":-43},{"x":-35,"y":-39},{"x":-34,"y":-44},{"x":-33,"y":-48},{"x":-32,"y":-45},{"x":-31,"y":-50},{"x":-30,"y":-46},{"x":-29,"y":-42},{"x":-28,"y":-47},{"x":-27,"y":-44},{"x":-26,"y":-40},{"x":-25,"y":-45},{"x":-24,"y":-38},{"x":-23,"y":-42},{"x":-22,"y":-39},{"x":-21,"y":-44},{"x":-20,"y":-40},{"x":-19,"y":-46},{"x":-18,"y":-43},{"x":-17,"y":-48},{"x":-16,"y":-41},{"x":-15,"y":-38},{"x":-14,"y":-42},{"x":-13,"y":-45},{"x":-12,"y":-40},{"x":-11,"y":-44},{"x":-10,"y":-42},{"x":-9,"y":-47},{"x":-8,"y":-40},{"x":-7,"y":-43},{"x":-6,"y":-35},{"x":-5,"y":-33},{"x":-4,"y":-30.5},{"x":-3,"y":-33},{"x":-2,"y":-34},{"x":-1,"y":-32},{"x":0,"y":-35},{"x":1,"y":-33},{"x":2,"y":-35},{"x":3,"y":-38},{"x":4,"y":-44},{"x":5,"y":-43},{"x":6,"y":-46},{"x":7,"y":-40},{"x":8,"y":-42},{"x":9,"y":-38},{"x":10,"y":-44},{"x":11,"y":-42},{"x":12,"y":-45},{"x":13,"y":-40},{"x":14,"y":-43},{"x":15,"y":-46},{"x":16,"y":-39},{"x":17,"y":-44},{"x":18,"y":-40},{"x":19,"y":-37.5},{"x":20,"y":-42},{"x":21,"y":-45},{"x":22,"y":-48},{"x":23,"y":-43},{"x":24,"y":-40},{"x":25,"y":-44},{"x":26,"y":-38},{"x":27,"y":-41},{"x":28,"y":-37},{"x":29,"y":-42},{"x":30,"y":-39},{"x":31,"y":-43},{"x":32,"y":-37},{"x":33,"y":-41},{"x":34,"y":-35},{"x":35,"y":-42},{"x":36,"y":-50},{"x":37,"y":-44},{"x":38,"y":-39},{"x":39,"y":-42},{"x":40,"y":-38},{"x":41,"y":-41},{"x":42,"y":-44},{"x":43,"y":-40},{"x":44,"y":-46},{"x":45,"y":-42},{"x":46,"y":-39},{"x":47,"y":-41},{"x":48,"y":-44},{"x":49,"y":-40},{"x":50,"y":-43},{"x":51,"y":-38},{"x":52,"y":-41},{"x":53,"y":-45},{"x":54,"y":-42},{"x":55,"y":-44},{"x":56,"y":-39},{"x":57,"y":-41},{"x":58,"y":-43},{"x":59,"y":-40},{"x":60,"y":-44},{"x":61,"y":-38},{"x":62,"y":-42},{"x":63,"y":-40},{"x":64,"y":-36},{"x":65,"y":-39},{"x":66,"y":-34},{"x":67,"y":-38},{"x":68,"y":-42},{"x":69,"y":-40},{"x":70,"y":-44},{"x":71,"y":-42},{"x":72,"y":-41},{"x":73,"y":-44},{"x":74,"y":-40},{"x":75,"y":-43},{"x":76,"y":-45},{"x":77,"y":-42},{"x":78,"y":-40},{"x":79,"y":-44},{"x":80,"y":-41},{"x":81,"y":-43},{"x":82,"y":-48},{"x":83,"y":-45},{"x":84,"y":-43},{"x":85,"y":-46},{"x":86,"y":-42},{"x":87,"y":-48},{"x":88,"y":-44},{"x":89,"y":-47},{"x":90,"y":-43}]
},
"concat": [
 {"width": 107, "height": 175, "view": {"stroke": null}, "data": {"values": [{"t": "E-plane"}]}, "mark": {"type": "text", "font": "Liberation Serif", "fontSize": 24, "fontWeight": "bold", "color": "#000"}, "encoding": {"text": {"field": "t"}}},
 {"width": 237, "height": 175,
  "encoding": {"x": {"field": "x", "type": "quantitative", "scale": {"domain": [-90, 90], "nice": false, "zero": false}, "axis": {"title": "Angle (deg.)", "values": [-90,-75,-60,-45,-30,-15,0,15,30,45,60,75,90], "labelExpr": "datum.value % 30 === 0 ? '' + datum.value : ''"}},
   "y": {"field": "y", "type": "quantitative", "scale": {"domain": [-50, 0], "nice": false, "zero": false}, "axis": {"title": "Magnitude (dB)", "values": [-50,-45,-40,-35,-30,-25,-20,-15,-10,-5,0], "labelExpr": "datum.value % 10 === 0 ? '' + datum.value : ''"}}},
  "layer": [
   {"data": {"name": "aE_cm"}, "mark": {"type": "line", "clip": true, "strokeWidth": 1.2}, "encoding": {"color": {"datum": "Co-pol._Measured", "type": "nominal", "title": null, "scale": {"domain": ["Co-pol._Measured","Co-pol._Simulated","Cross-pol._Measured","Cross-pol._Simulated"], "range": ["#ff0000","#000000","#0000ff","#ff00ff"]}}}},
   {"data": {"name": "aE_cs"}, "mark": {"type": "line", "clip": true, "strokeWidth": 1.3}, "encoding": {"color": {"datum": "Co-pol._Simulated", "type": "nominal", "title": null, "scale": {"domain": ["Co-pol._Measured","Co-pol._Simulated","Cross-pol._Measured","Cross-pol._Simulated"], "range": ["#ff0000","#000000","#0000ff","#ff00ff"]}}, "strokeDash": {"datum": "Co-pol._Simulated", "type": "nominal", "title": null, "scale": {"domain": ["Co-pol._Measured","Co-pol._Simulated","Cross-pol._Measured","Cross-pol._Simulated"], "range": [[1,0],[3,2],[1,0],[1,0]]}}}},
   {"data": {"name": "aE_xm"}, "mark": {"type": "line", "clip": true, "strokeWidth": 1.2}, "encoding": {"color": {"datum": "Cross-pol._Measured", "type": "nominal", "title": null, "scale": {"domain": ["Co-pol._Measured","Co-pol._Simulated","Cross-pol._Measured","Cross-pol._Simulated"], "range": ["#ff0000","#000000","#0000ff","#ff00ff"]}}}},
   {"data": {"name": "aE_xm"}, "transform": [{"window": [{"op": "row_number", "as": "rn"}]}, {"filter": "datum.rn % 5 === 0"}], "mark": {"type": "point", "shape": "circle", "filled": true, "fill": "#ffffff", "stroke": "#5b5bff", "strokeWidth": 1, "size": 28, "opacity": 1, "clip": true}},
   {"data": {"values": []}, "mark": {"type": "point"}, "encoding": {"shape": {"datum": "Cross-pol._Measured", "type": "nominal", "title": null, "scale": {"domain": ["Co-pol._Measured","Co-pol._Simulated","Cross-pol._Measured","Cross-pol._Simulated"], "range": ["stroke","stroke","M-1,0L-0.17,0M0.17,0L1,0M-0.17,0A0.17,0.17,0,1,1,0.17,0A0.17,0.17,0,1,1,-0.17,0","M-1,0L-0.11,0M0.11,0L1,0M-0.2,0.15L0,-0.2L0.2,0.15Z"]}}}}
  ]},
 {"width": 237, "height": 175,
  "encoding": {"x": {"field": "x", "type": "quantitative", "scale": {"domain": [-90, 90], "nice": false, "zero": false}, "axis": {"title": "Angle (deg.)", "values": [-90,-75,-60,-45,-30,-15,0,15,30,45,60,75,90], "labelExpr": "datum.value % 30 === 0 ? '' + datum.value : ''"}},
   "y": {"field": "y", "type": "quantitative", "scale": {"domain": [-50, 0], "nice": false, "zero": false}, "axis": {"title": null, "values": [-50,-45,-40,-35,-30,-25,-20,-15,-10,-5,0], "labelExpr": "datum.value % 10 === 0 ? '' + datum.value : ''"}}},
  "layer": [
   {"data": {"name": "bE_cm"}, "mark": {"type": "line", "clip": true, "strokeWidth": 1.2}, "encoding": {"color": {"datum": "Co-pol._Measured", "type": "nominal", "title": null, "scale": {"domain": ["Co-pol._Measured","Co-pol._Simulated","Cross-pol._Measured","Cross-pol._Simulated"], "range": ["#ff0000","#000000","#0000ff","#ff00ff"]}}}},
   {"data": {"name": "bE_cs"}, "mark": {"type": "line", "clip": true, "strokeWidth": 1.3}, "encoding": {"color": {"datum": "Co-pol._Simulated", "type": "nominal", "title": null, "scale": {"domain": ["Co-pol._Measured","Co-pol._Simulated","Cross-pol._Measured","Cross-pol._Simulated"], "range": ["#ff0000","#000000","#0000ff","#ff00ff"]}}, "strokeDash": {"datum": "Co-pol._Simulated", "type": "nominal", "title": null, "scale": {"domain": ["Co-pol._Measured","Co-pol._Simulated","Cross-pol._Measured","Cross-pol._Simulated"], "range": [[1,0],[3,2],[1,0],[1,0]]}}}},
   {"data": {"name": "bE_xm"}, "mark": {"type": "line", "clip": true, "strokeWidth": 1.2}, "encoding": {"color": {"datum": "Cross-pol._Measured", "type": "nominal", "title": null, "scale": {"domain": ["Co-pol._Measured","Co-pol._Simulated","Cross-pol._Measured","Cross-pol._Simulated"], "range": ["#ff0000","#000000","#0000ff","#ff00ff"]}}}},
   {"data": {"name": "bE_xm"}, "transform": [{"window": [{"op": "row_number", "as": "rn"}]}, {"filter": "datum.rn % 5 === 0"}], "mark": {"type": "point", "shape": "circle", "filled": true, "fill": "#ffffff", "stroke": "#5b5bff", "strokeWidth": 1, "size": 28, "opacity": 1, "clip": true}}
  ]},
 {"width": 237, "height": 175,
  "encoding": {"x": {"field": "x", "type": "quantitative", "scale": {"domain": [-90, 90], "nice": false, "zero": false}, "axis": {"title": "Angle (deg.)", "values": [-90,-75,-60,-45,-30,-15,0,15,30,45,60,75,90], "labelExpr": "datum.value % 30 === 0 ? '' + datum.value : ''"}},
   "y": {"field": "y", "type": "quantitative", "scale": {"domain": [-50, 0], "nice": false, "zero": false}, "axis": {"title": null, "values": [-50,-45,-40,-35,-30,-25,-20,-15,-10,-5,0], "labelExpr": "datum.value % 10 === 0 ? '' + datum.value : ''"}}},
  "layer": [
   {"data": {"name": "cE_cm"}, "mark": {"type": "line", "clip": true, "strokeWidth": 1.2}, "encoding": {"color": {"datum": "Co-pol._Measured", "type": "nominal", "title": null, "scale": {"domain": ["Co-pol._Measured","Co-pol._Simulated","Cross-pol._Measured","Cross-pol._Simulated"], "range": ["#ff0000","#000000","#0000ff","#ff00ff"]}}}},
   {"data": {"name": "cE_cs"}, "mark": {"type": "line", "clip": true, "strokeWidth": 1.3}, "encoding": {"color": {"datum": "Co-pol._Simulated", "type": "nominal", "title": null, "scale": {"domain": ["Co-pol._Measured","Co-pol._Simulated","Cross-pol._Measured","Cross-pol._Simulated"], "range": ["#ff0000","#000000","#0000ff","#ff00ff"]}}, "strokeDash": {"datum": "Co-pol._Simulated", "type": "nominal", "title": null, "scale": {"domain": ["Co-pol._Measured","Co-pol._Simulated","Cross-pol._Measured","Cross-pol._Simulated"], "range": [[1,0],[3,2],[1,0],[1,0]]}}}},
   {"data": {"name": "cE_xm"}, "mark": {"type": "line", "clip": true, "strokeWidth": 1.2}, "encoding": {"color": {"datum": "Cross-pol._Measured", "type": "nominal", "title": null, "scale": {"domain": ["Co-pol._Measured","Co-pol._Simulated","Cross-pol._Measured","Cross-pol._Simulated"], "range": ["#ff0000","#000000","#0000ff","#ff00ff"]}}}},
   {"data": {"name": "cE_xm"}, "transform": [{"window": [{"op": "row_number", "as": "rn"}]}, {"filter": "datum.rn % 5 === 0"}], "mark": {"type": "point", "shape": "circle", "filled": true, "fill": "#ffffff", "stroke": "#5b5bff", "strokeWidth": 1, "size": 28, "opacity": 1, "clip": true}}
  ]},
 {"width": 237, "height": 175,
  "encoding": {"x": {"field": "x", "type": "quantitative", "scale": {"domain": [-90, 90], "nice": false, "zero": false}, "axis": {"title": "Angle (deg.)", "values": [-90,-75,-60,-45,-30,-15,0,15,30,45,60,75,90], "labelExpr": "datum.value % 30 === 0 ? '' + datum.value : ''"}},
   "y": {"field": "y", "type": "quantitative", "scale": {"domain": [-50, 0], "nice": false, "zero": false}, "axis": {"title": null, "values": [-50,-45,-40,-35,-30,-25,-20,-15,-10,-5,0], "labelExpr": "datum.value % 10 === 0 ? '' + datum.value : ''"}}},
  "layer": [
   {"data": {"name": "dE_cm"}, "mark": {"type": "line", "clip": true, "strokeWidth": 1.2}, "encoding": {"color": {"datum": "Co-pol._Measured", "type": "nominal", "title": null, "scale": {"domain": ["Co-pol._Measured","Co-pol._Simulated","Cross-pol._Measured","Cross-pol._Simulated"], "range": ["#ff0000","#000000","#0000ff","#ff00ff"]}}}},
   {"data": {"name": "dE_cs"}, "mark": {"type": "line", "clip": true, "strokeWidth": 1.3}, "encoding": {"color": {"datum": "Co-pol._Simulated", "type": "nominal", "title": null, "scale": {"domain": ["Co-pol._Measured","Co-pol._Simulated","Cross-pol._Measured","Cross-pol._Simulated"], "range": ["#ff0000","#000000","#0000ff","#ff00ff"]}}, "strokeDash": {"datum": "Co-pol._Simulated", "type": "nominal", "title": null, "scale": {"domain": ["Co-pol._Measured","Co-pol._Simulated","Cross-pol._Measured","Cross-pol._Simulated"], "range": [[1,0],[3,2],[1,0],[1,0]]}}}},
   {"data": {"name": "dE_xm"}, "mark": {"type": "line", "clip": true, "strokeWidth": 1.2}, "encoding": {"color": {"datum": "Cross-pol._Measured", "type": "nominal", "title": null, "scale": {"domain": ["Co-pol._Measured","Co-pol._Simulated","Cross-pol._Measured","Cross-pol._Simulated"], "range": ["#ff0000","#000000","#0000ff","#ff00ff"]}}}},
   {"data": {"name": "dE_xm"}, "transform": [{"window": [{"op": "row_number", "as": "rn"}]}, {"filter": "datum.rn % 5 === 0"}], "mark": {"type": "point", "shape": "circle", "filled": true, "fill": "#ffffff", "stroke": "#5b5bff", "strokeWidth": 1, "size": 28, "opacity": 1, "clip": true}}
  ]},
 {"width": 107, "height": 175, "view": {"stroke": null}, "data": {"values": [{"t": "H-plane"}]}, "mark": {"type": "text", "font": "Liberation Serif", "fontSize": 24, "fontWeight": "bold", "color": "#000"}, "encoding": {"text": {"field": "t"}}},
 {"width": 237, "height": 175, "title": {"text": "(a)", "orient": "bottom", "font": "Liberation Serif", "fontSize": 22, "fontWeight": "normal", "color": "#000", "offset": 10},
  "encoding": {"x": {"field": "x", "type": "quantitative", "scale": {"domain": [-90, 90], "nice": false, "zero": false}, "axis": {"title": "Angle (deg.)", "values": [-90,-75,-60,-45,-30,-15,0,15,30,45,60,75,90], "labelExpr": "datum.value % 30 === 0 ? '' + datum.value : ''"}},
   "y": {"field": "y", "type": "quantitative", "scale": {"domain": [-50, 0], "nice": false, "zero": false}, "axis": {"title": "Magnitude (dB)", "values": [-50,-45,-40,-35,-30,-25,-20,-15,-10,-5,0], "labelExpr": "datum.value % 10 === 0 ? '' + datum.value : ''"}}},
  "layer": [
   {"data": {"name": "aH_cm"}, "mark": {"type": "line", "clip": true, "strokeWidth": 1.2}, "encoding": {"color": {"datum": "Co-pol._Measured", "type": "nominal", "title": null, "scale": {"domain": ["Co-pol._Measured","Co-pol._Simulated","Cross-pol._Measured","Cross-pol._Simulated"], "range": ["#ff0000","#000000","#0000ff","#ff00ff"]}}}},
   {"data": {"name": "aH_cs"}, "mark": {"type": "line", "clip": true, "strokeWidth": 1.3}, "encoding": {"color": {"datum": "Co-pol._Simulated", "type": "nominal", "title": null, "scale": {"domain": ["Co-pol._Measured","Co-pol._Simulated","Cross-pol._Measured","Cross-pol._Simulated"], "range": ["#ff0000","#000000","#0000ff","#ff00ff"]}}, "strokeDash": {"datum": "Co-pol._Simulated", "type": "nominal", "title": null, "scale": {"domain": ["Co-pol._Measured","Co-pol._Simulated","Cross-pol._Measured","Cross-pol._Simulated"], "range": [[1,0],[3,2],[1,0],[1,0]]}}}},
   {"data": {"name": "aH_xm"}, "mark": {"type": "line", "clip": true, "strokeWidth": 1.2}, "encoding": {"color": {"datum": "Cross-pol._Measured", "type": "nominal", "title": null, "scale": {"domain": ["Co-pol._Measured","Co-pol._Simulated","Cross-pol._Measured","Cross-pol._Simulated"], "range": ["#ff0000","#000000","#0000ff","#ff00ff"]}}}},
   {"data": {"name": "aH_xm"}, "transform": [{"window": [{"op": "row_number", "as": "rn"}]}, {"filter": "datum.rn % 5 === 0"}], "mark": {"type": "point", "shape": "circle", "filled": true, "fill": "#ffffff", "stroke": "#5b5bff", "strokeWidth": 1, "size": 28, "opacity": 1, "clip": true}}
  ]},
 {"width": 237, "height": 175, "title": {"text": "(b)", "orient": "bottom", "font": "Liberation Serif", "fontSize": 22, "fontWeight": "normal", "color": "#000", "offset": 10},
  "encoding": {"x": {"field": "x", "type": "quantitative", "scale": {"domain": [-90, 90], "nice": false, "zero": false}, "axis": {"title": "Angle (deg.)", "values": [-90,-75,-60,-45,-30,-15,0,15,30,45,60,75,90], "labelExpr": "datum.value % 30 === 0 ? '' + datum.value : ''"}},
   "y": {"field": "y", "type": "quantitative", "scale": {"domain": [-50, 0], "nice": false, "zero": false}, "axis": {"title": null, "values": [-50,-45,-40,-35,-30,-25,-20,-15,-10,-5,0], "labelExpr": "datum.value % 10 === 0 ? '' + datum.value : ''"}}},
  "layer": [
   {"data": {"name": "bH_cm"}, "mark": {"type": "line", "clip": true, "strokeWidth": 1.2}, "encoding": {"color": {"datum": "Co-pol._Measured", "type": "nominal", "title": null, "scale": {"domain": ["Co-pol._Measured","Co-pol._Simulated","Cross-pol._Measured","Cross-pol._Simulated"], "range": ["#ff0000","#000000","#0000ff","#ff00ff"]}}}},
   {"data": {"name": "bH_cs"}, "mark": {"type": "line", "clip": true, "strokeWidth": 1.3}, "encoding": {"color": {"datum": "Co-pol._Simulated", "type": "nominal", "title": null, "scale": {"domain": ["Co-pol._Measured","Co-pol._Simulated","Cross-pol._Measured","Cross-pol._Simulated"], "range": ["#ff0000","#000000","#0000ff","#ff00ff"]}}, "strokeDash": {"datum": "Co-pol._Simulated", "type": "nominal", "title": null, "scale": {"domain": ["Co-pol._Measured","Co-pol._Simulated","Cross-pol._Measured","Cross-pol._Simulated"], "range": [[1,0],[3,2],[1,0],[1,0]]}}}},
   {"data": {"name": "bH_xm"}, "mark": {"type": "line", "clip": true, "strokeWidth": 1.2}, "encoding": {"color": {"datum": "Cross-pol._Measured", "type": "nominal", "title": null, "scale": {"domain": ["Co-pol._Measured","Co-pol._Simulated","Cross-pol._Measured","Cross-pol._Simulated"], "range": ["#ff0000","#000000","#0000ff","#ff00ff"]}}}},
   {"data": {"name": "bH_xm"}, "transform": [{"window": [{"op": "row_number", "as": "rn"}]}, {"filter": "datum.rn % 5 === 0"}], "mark": {"type": "point", "shape": "circle", "filled": true, "fill": "#ffffff", "stroke": "#5b5bff", "strokeWidth": 1, "size": 28, "opacity": 1, "clip": true}}
  ]},
 {"width": 237, "height": 175, "title": {"text": "(c)", "orient": "bottom", "font": "Liberation Serif", "fontSize": 22, "fontWeight": "normal", "color": "#000", "offset": 10},
  "encoding": {"x": {"field": "x", "type": "quantitative", "scale": {"domain": [-90, 90], "nice": false, "zero": false}, "axis": {"title": "Angle (deg.)", "values": [-90,-75,-60,-45,-30,-15,0,15,30,45,60,75,90], "labelExpr": "datum.value % 30 === 0 ? '' + datum.value : ''"}},
   "y": {"field": "y", "type": "quantitative", "scale": {"domain": [-50, 0], "nice": false, "zero": false}, "axis": {"title": null, "values": [-50,-45,-40,-35,-30,-25,-20,-15,-10,-5,0], "labelExpr": "datum.value % 10 === 0 ? '' + datum.value : ''"}}},
  "layer": [
   {"data": {"name": "cH_cm"}, "mark": {"type": "line", "clip": true, "strokeWidth": 1.2}, "encoding": {"color": {"datum": "Co-pol._Measured", "type": "nominal", "title": null, "scale": {"domain": ["Co-pol._Measured","Co-pol._Simulated","Cross-pol._Measured","Cross-pol._Simulated"], "range": ["#ff0000","#000000","#0000ff","#ff00ff"]}}}},
   {"data": {"name": "cH_cs"}, "mark": {"type": "line", "clip": true, "strokeWidth": 1.3}, "encoding": {"color": {"datum": "Co-pol._Simulated", "type": "nominal", "title": null, "scale": {"domain": ["Co-pol._Measured","Co-pol._Simulated","Cross-pol._Measured","Cross-pol._Simulated"], "range": ["#ff0000","#000000","#0000ff","#ff00ff"]}}, "strokeDash": {"datum": "Co-pol._Simulated", "type": "nominal", "title": null, "scale": {"domain": ["Co-pol._Measured","Co-pol._Simulated","Cross-pol._Measured","Cross-pol._Simulated"], "range": [[1,0],[3,2],[1,0],[1,0]]}}}},
   {"data": {"name": "cH_xm"}, "mark": {"type": "line", "clip": true, "strokeWidth": 1.2}, "encoding": {"color": {"datum": "Cross-pol._Measured", "type": "nominal", "title": null, "scale": {"domain": ["Co-pol._Measured","Co-pol._Simulated","Cross-pol._Measured","Cross-pol._Simulated"], "range": ["#ff0000","#000000","#0000ff","#ff00ff"]}}}},
   {"data": {"name": "cH_xm"}, "transform": [{"window": [{"op": "row_number", "as": "rn"}]}, {"filter": "datum.rn % 5 === 0"}], "mark": {"type": "point", "shape": "circle", "filled": true, "fill": "#ffffff", "stroke": "#5b5bff", "strokeWidth": 1, "size": 28, "opacity": 1, "clip": true}}
  ]},
 {"width": 237, "height": 175, "title": {"text": "(d)", "orient": "bottom", "font": "Liberation Serif", "fontSize": 22, "fontWeight": "normal", "color": "#000", "offset": 10},
  "encoding": {"x": {"field": "x", "type": "quantitative", "scale": {"domain": [-90, 90], "nice": false, "zero": false}, "axis": {"title": "Angle (deg.)", "values": [-90,-75,-60,-45,-30,-15,0,15,30,45,60,75,90], "labelExpr": "datum.value % 30 === 0 ? '' + datum.value : ''"}},
   "y": {"field": "y", "type": "quantitative", "scale": {"domain": [-50, 0], "nice": false, "zero": false}, "axis": {"title": null, "values": [-50,-45,-40,-35,-30,-25,-20,-15,-10,-5,0], "labelExpr": "datum.value % 10 === 0 ? '' + datum.value : ''"}}},
  "layer": [
   {"data": {"name": "dH_cm"}, "mark": {"type": "line", "clip": true, "strokeWidth": 1.2}, "encoding": {"color": {"datum": "Co-pol._Measured", "type": "nominal", "title": null, "scale": {"domain": ["Co-pol._Measured","Co-pol._Simulated","Cross-pol._Measured","Cross-pol._Simulated"], "range": ["#ff0000","#000000","#0000ff","#ff00ff"]}}}},
   {"data": {"name": "dH_cs"}, "mark": {"type": "line", "clip": true, "strokeWidth": 1.3}, "encoding": {"color": {"datum": "Co-pol._Simulated", "type": "nominal", "title": null, "scale": {"domain": ["Co-pol._Measured","Co-pol._Simulated","Cross-pol._Measured","Cross-pol._Simulated"], "range": ["#ff0000","#000000","#0000ff","#ff00ff"]}}, "strokeDash": {"datum": "Co-pol._Simulated", "type": "nominal", "title": null, "scale": {"domain": ["Co-pol._Measured","Co-pol._Simulated","Cross-pol._Measured","Cross-pol._Simulated"], "range": [[1,0],[3,2],[1,0],[1,0]]}}}},
   {"data": {"name": "dH_xm"}, "mark": {"type": "line", "clip": true, "strokeWidth": 1.2}, "encoding": {"color": {"datum": "Cross-pol._Measured", "type": "nominal", "title": null, "scale": {"domain": ["Co-pol._Measured","Co-pol._Simulated","Cross-pol._Measured","Cross-pol._Simulated"], "range": ["#ff0000","#000000","#0000ff","#ff00ff"]}}}},
   {"data": {"name": "dH_xm"}, "transform": [{"window": [{"op": "row_number", "as": "rn"}]}, {"filter": "datum.rn % 5 === 0"}], "mark": {"type": "point", "shape": "circle", "filled": true, "fill": "#ffffff", "stroke": "#5b5bff", "strokeWidth": 1, "size": 28, "opacity": 1, "clip": true}}
  ]}
]
}
